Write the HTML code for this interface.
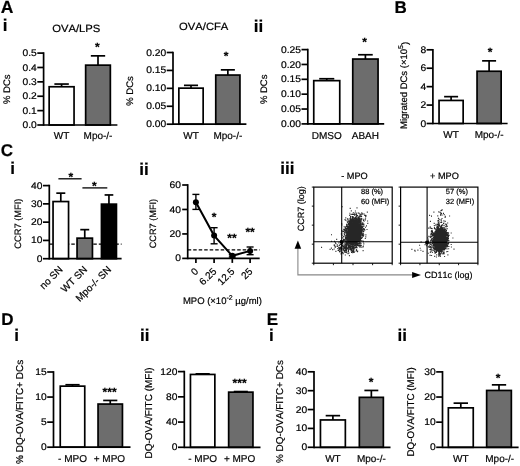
<!DOCTYPE html>
<html><head><meta charset="utf-8"><title>Figure</title>
<style>html,body{margin:0;padding:0;background:#fff}svg{display:block;filter:blur(0.4px)}text{font-family:"Liberation Sans", Arial, sans-serif;fill:#000;font-kerning:none;text-rendering:geometricPrecision;stroke:#000;stroke-width:0.2px}</style>
</head><body>
<svg width="520" height="466" viewBox="0 0 520 466">
<rect width="520" height="466" fill="#fff"/>
<text x="0.8" y="13.3" font-size="17.5" text-anchor="start" font-weight="bold">A</text>
<text x="2.8" y="31.2" font-size="17" text-anchor="start" font-weight="bold">i</text>
<text x="253.7" y="31.8" font-size="17" text-anchor="start" font-weight="bold">ii</text>
<text x="394.5" y="13.3" font-size="17" text-anchor="start" font-weight="bold">B</text>
<text x="0.7" y="156.4" font-size="17" text-anchor="start" font-weight="bold">C</text>
<text x="10.2" y="173.6" font-size="17" text-anchor="start" font-weight="bold">i</text>
<text x="139.2" y="174.6" font-size="17" text-anchor="start" font-weight="bold">ii</text>
<text x="280.2" y="174.2" font-size="17" text-anchor="start" font-weight="bold">iii</text>
<text x="1.2" y="324.7" font-size="17" text-anchor="start" font-weight="bold">D</text>
<text x="14.3" y="341.3" font-size="17" text-anchor="start" font-weight="bold">i</text>
<text x="140" y="341.3" font-size="17" text-anchor="start" font-weight="bold">ii</text>
<text x="266.8" y="324.7" font-size="17" text-anchor="start" font-weight="bold">E</text>
<text x="269" y="341.3" font-size="17" text-anchor="start" font-weight="bold">i</text>
<text x="397.5" y="341.3" font-size="17" text-anchor="start" font-weight="bold">ii</text>
<text transform="translate(76.2 31.9) scale(1.07 1)" font-size="10.5" text-anchor="middle" font-weight="normal">OVA/LPS</text>
<line x1="61.60000000000001" y1="86.75" x2="61.60000000000001" y2="84.05" stroke="#000" stroke-width="1.7"/>
<line x1="54.379000000000005" y1="84.05" x2="68.82100000000001" y2="84.05" stroke="#000" stroke-width="1.7"/>
<rect x="49.15" y="86.75" width="24.90" height="38.25" fill="#fff" stroke="#000" stroke-width="1.7"/>
<line x1="98.0" y1="65.14999999999999" x2="98.0" y2="55.85" stroke="#000" stroke-width="1.7"/>
<line x1="90.83699999999999" y1="55.85" x2="105.16300000000001" y2="55.85" stroke="#000" stroke-width="1.7"/>
<rect x="85.65" y="65.15" width="24.70" height="59.85" fill="#6d6d6d" stroke="#000" stroke-width="1.7"/>
<line x1="43.6" y1="52.25" x2="43.6" y2="125.85" stroke="#000" stroke-width="1.7"/>
<line x1="43.6" y1="125" x2="117.4" y2="125" stroke="#000" stroke-width="1.7"/>
<line x1="37.300000000000004" y1="125.0" x2="43.6" y2="125.0" stroke="#000" stroke-width="1.7"/>
<text transform="translate(36.800000000000004 128.05) scale(1.07 1)" font-size="9.6" text-anchor="end" font-weight="normal">0.0</text>
<line x1="37.300000000000004" y1="110.62" x2="43.6" y2="110.62" stroke="#000" stroke-width="1.7"/>
<text transform="translate(36.800000000000004 113.67) scale(1.07 1)" font-size="9.6" text-anchor="end" font-weight="normal">0.1</text>
<line x1="37.300000000000004" y1="96.24" x2="43.6" y2="96.24" stroke="#000" stroke-width="1.7"/>
<text transform="translate(36.800000000000004 99.29) scale(1.07 1)" font-size="9.6" text-anchor="end" font-weight="normal">0.2</text>
<line x1="37.300000000000004" y1="81.86" x2="43.6" y2="81.86" stroke="#000" stroke-width="1.7"/>
<text transform="translate(36.800000000000004 84.91) scale(1.07 1)" font-size="9.6" text-anchor="end" font-weight="normal">0.3</text>
<line x1="37.300000000000004" y1="67.47999999999999" x2="43.6" y2="67.47999999999999" stroke="#000" stroke-width="1.7"/>
<text transform="translate(36.800000000000004 70.53) scale(1.07 1)" font-size="9.6" text-anchor="end" font-weight="normal">0.4</text>
<line x1="37.300000000000004" y1="53.099999999999994" x2="43.6" y2="53.099999999999994" stroke="#000" stroke-width="1.7"/>
<text transform="translate(36.800000000000004 56.15) scale(1.07 1)" font-size="9.6" text-anchor="end" font-weight="normal">0.5</text>
<text x="61.6" y="138.6" font-size="10" text-anchor="middle" font-weight="normal">WT</text>
<text x="98.0" y="138.6" font-size="10" text-anchor="middle" font-weight="normal">Mpo-/-</text>
<text x="97.3" y="51.300000000000004" font-size="12" text-anchor="middle" font-weight="bold">*</text>
<text x="7.4" y="89.2" font-size="9.5" text-anchor="middle" font-weight="normal" transform="rotate(-90 7.4 89.2)" dominant-baseline="central">% DCs</text>
<text transform="translate(203.7 30) scale(1.07 1)" font-size="10.5" text-anchor="middle" font-weight="normal">OVA/CFA</text>
<line x1="191.0" y1="88.14999999999999" x2="191.0" y2="85.35" stroke="#000" stroke-width="1.7"/>
<line x1="183.953" y1="85.35" x2="198.047" y2="85.35" stroke="#000" stroke-width="1.7"/>
<rect x="178.85" y="88.15" width="24.30" height="36.05" fill="#fff" stroke="#000" stroke-width="1.7"/>
<line x1="227.85000000000002" y1="75.05" x2="227.85000000000002" y2="69.85" stroke="#000" stroke-width="1.7"/>
<line x1="220.83200000000002" y1="69.85" x2="234.86800000000002" y2="69.85" stroke="#000" stroke-width="1.7"/>
<rect x="215.75" y="75.05" width="24.20" height="49.15" fill="#6d6d6d" stroke="#000" stroke-width="1.7"/>
<line x1="173" y1="51.65" x2="173" y2="125.05" stroke="#000" stroke-width="1.7"/>
<line x1="173" y1="124.2" x2="246.4" y2="124.2" stroke="#000" stroke-width="1.7"/>
<line x1="166.7" y1="124.2" x2="173" y2="124.2" stroke="#000" stroke-width="1.7"/>
<text transform="translate(166.2 127.25) scale(1.07 1)" font-size="9.6" text-anchor="end" font-weight="normal">0.00</text>
<line x1="166.7" y1="106.275" x2="173" y2="106.275" stroke="#000" stroke-width="1.7"/>
<text transform="translate(166.2 109.33) scale(1.07 1)" font-size="9.6" text-anchor="end" font-weight="normal">0.05</text>
<line x1="166.7" y1="88.35" x2="173" y2="88.35" stroke="#000" stroke-width="1.7"/>
<text transform="translate(166.2 91.4) scale(1.07 1)" font-size="9.6" text-anchor="end" font-weight="normal">0.10</text>
<line x1="166.7" y1="70.425" x2="173" y2="70.425" stroke="#000" stroke-width="1.7"/>
<text transform="translate(166.2 73.47) scale(1.07 1)" font-size="9.6" text-anchor="end" font-weight="normal">0.15</text>
<line x1="166.7" y1="52.5" x2="173" y2="52.5" stroke="#000" stroke-width="1.7"/>
<text transform="translate(166.2 55.55) scale(1.07 1)" font-size="9.6" text-anchor="end" font-weight="normal">0.20</text>
<text x="191.0" y="138.8" font-size="10" text-anchor="middle" font-weight="normal">WT</text>
<text x="227.85" y="138.8" font-size="10" text-anchor="middle" font-weight="normal">Mpo-/-</text>
<text x="226" y="60.0" font-size="12" text-anchor="middle" font-weight="bold">*</text>
<text x="130" y="91" font-size="9.5" text-anchor="middle" font-weight="normal" transform="rotate(-90 130 91)" dominant-baseline="central">% DCs</text>
<line x1="326.75" y1="80.64999999999999" x2="326.75" y2="78.75" stroke="#000" stroke-width="1.7"/>
<line x1="319.21" y1="78.75" x2="334.29" y2="78.75" stroke="#000" stroke-width="1.7"/>
<rect x="313.75" y="80.65" width="26.00" height="43.25" fill="#fff" stroke="#000" stroke-width="1.7"/>
<line x1="365.4" y1="59.050000000000004" x2="365.4" y2="54.75" stroke="#000" stroke-width="1.7"/>
<line x1="358.063" y1="54.75" x2="372.73699999999997" y2="54.75" stroke="#000" stroke-width="1.7"/>
<rect x="352.75" y="59.05" width="25.30" height="64.85" fill="#6d6d6d" stroke="#000" stroke-width="1.7"/>
<line x1="307.8" y1="48.75" x2="307.8" y2="124.75" stroke="#000" stroke-width="1.7"/>
<line x1="307.8" y1="123.9" x2="384.2" y2="123.9" stroke="#000" stroke-width="1.7"/>
<line x1="301.5" y1="123.9" x2="307.8" y2="123.9" stroke="#000" stroke-width="1.7"/>
<text transform="translate(301.0 126.95) scale(1.07 1)" font-size="9.6" text-anchor="end" font-weight="normal">0.00</text>
<line x1="301.5" y1="109.04" x2="307.8" y2="109.04" stroke="#000" stroke-width="1.7"/>
<text transform="translate(301.0 112.09) scale(1.07 1)" font-size="9.6" text-anchor="end" font-weight="normal">0.05</text>
<line x1="301.5" y1="94.18" x2="307.8" y2="94.18" stroke="#000" stroke-width="1.7"/>
<text transform="translate(301.0 97.23) scale(1.07 1)" font-size="9.6" text-anchor="end" font-weight="normal">0.10</text>
<line x1="301.5" y1="79.32" x2="307.8" y2="79.32" stroke="#000" stroke-width="1.7"/>
<text transform="translate(301.0 82.37) scale(1.07 1)" font-size="9.6" text-anchor="end" font-weight="normal">0.15</text>
<line x1="301.5" y1="64.46" x2="307.8" y2="64.46" stroke="#000" stroke-width="1.7"/>
<text transform="translate(301.0 67.51) scale(1.07 1)" font-size="9.6" text-anchor="end" font-weight="normal">0.20</text>
<line x1="301.5" y1="49.599999999999994" x2="307.8" y2="49.599999999999994" stroke="#000" stroke-width="1.7"/>
<text transform="translate(301.0 52.65) scale(1.07 1)" font-size="9.6" text-anchor="end" font-weight="normal">0.25</text>
<text x="326.75" y="139.3" font-size="10" text-anchor="middle" font-weight="normal">DMSO</text>
<text x="365.4" y="139.3" font-size="10" text-anchor="middle" font-weight="normal">ABAH</text>
<text x="364.6" y="46.2" font-size="12" text-anchor="middle" font-weight="bold">*</text>
<text x="264.4" y="89.3" font-size="9.5" text-anchor="middle" font-weight="normal" transform="rotate(-90 264.4 89.3)" dominant-baseline="central">% DCs</text>
<line x1="451.1" y1="100.44999999999999" x2="451.1" y2="96.64999999999999" stroke="#000" stroke-width="1.7"/>
<line x1="444.11100000000005" y1="96.64999999999999" x2="458.089" y2="96.64999999999999" stroke="#000" stroke-width="1.7"/>
<rect x="439.05" y="100.45" width="24.10" height="23.05" fill="#fff" stroke="#000" stroke-width="1.7"/>
<line x1="489.1" y1="71.25" x2="489.1" y2="60.85" stroke="#000" stroke-width="1.7"/>
<line x1="482.11100000000005" y1="60.85" x2="496.089" y2="60.85" stroke="#000" stroke-width="1.7"/>
<rect x="477.05" y="71.25" width="24.10" height="52.25" fill="#6d6d6d" stroke="#000" stroke-width="1.7"/>
<line x1="432.9" y1="48.949999999999996" x2="432.9" y2="124.35" stroke="#000" stroke-width="1.7"/>
<line x1="432.9" y1="123.5" x2="507.6" y2="123.5" stroke="#000" stroke-width="1.7"/>
<line x1="426.59999999999997" y1="123.5" x2="432.9" y2="123.5" stroke="#000" stroke-width="1.7"/>
<text transform="translate(426.09999999999997 126.55) scale(1.07 1)" font-size="9.6" text-anchor="end" font-weight="normal">0</text>
<line x1="426.59999999999997" y1="105.075" x2="432.9" y2="105.075" stroke="#000" stroke-width="1.7"/>
<text transform="translate(426.09999999999997 108.12) scale(1.07 1)" font-size="9.6" text-anchor="end" font-weight="normal">2</text>
<line x1="426.59999999999997" y1="86.65" x2="432.9" y2="86.65" stroke="#000" stroke-width="1.7"/>
<text transform="translate(426.09999999999997 89.7) scale(1.07 1)" font-size="9.6" text-anchor="end" font-weight="normal">4</text>
<line x1="426.59999999999997" y1="68.225" x2="432.9" y2="68.225" stroke="#000" stroke-width="1.7"/>
<text transform="translate(426.09999999999997 71.27) scale(1.07 1)" font-size="9.6" text-anchor="end" font-weight="normal">6</text>
<line x1="426.59999999999997" y1="49.8" x2="432.9" y2="49.8" stroke="#000" stroke-width="1.7"/>
<text transform="translate(426.09999999999997 52.85) scale(1.07 1)" font-size="9.6" text-anchor="end" font-weight="normal">8</text>
<text x="451.1" y="138.2" font-size="10" text-anchor="middle" font-weight="normal">WT</text>
<text x="489.1" y="138.2" font-size="10" text-anchor="middle" font-weight="normal">Mpo-/-</text>
<text x="490.2" y="55.800000000000004" font-size="12" text-anchor="middle" font-weight="bold">*</text>
<text x="405" y="85.4" font-size="9.5" text-anchor="middle" font-weight="normal" transform="rotate(-90 405 85.4)" dominant-baseline="central">Migrated DCs (×10<tspan dy="-3.5" font-size="7">5</tspan><tspan dy="3.5">)</tspan></text>
<line x1="49.3" y1="244.1" x2="121.6" y2="244.1" stroke="#000" stroke-width="1.2" stroke-dasharray="3.5 2"/>
<line x1="60.80000000000001" y1="201.54999999999998" x2="60.80000000000001" y2="193.15" stroke="#000" stroke-width="1.7"/>
<line x1="56.30500000000001" y1="193.15" x2="65.29500000000002" y2="193.15" stroke="#000" stroke-width="1.7"/>
<rect x="53.05" y="201.55" width="15.50" height="57.15" fill="#fff" stroke="#000" stroke-width="1.7"/>
<line x1="84.75" y1="238.15" x2="84.75" y2="229.65" stroke="#000" stroke-width="1.7"/>
<line x1="80.28399999999999" y1="229.65" x2="89.21600000000001" y2="229.65" stroke="#000" stroke-width="1.7"/>
<rect x="77.05" y="238.15" width="15.40" height="20.55" fill="#727272" stroke="#000" stroke-width="1.7"/>
<line x1="108.94999999999999" y1="204.15" x2="108.94999999999999" y2="194.95" stroke="#000" stroke-width="1.7"/>
<line x1="104.59999999999998" y1="194.95" x2="113.3" y2="194.95" stroke="#000" stroke-width="1.7"/>
<rect x="101.45" y="204.15" width="15.00" height="54.55" fill="#000" stroke="#000" stroke-width="1.7"/>
<line x1="49.3" y1="184.75" x2="49.3" y2="259.55" stroke="#000" stroke-width="1.7"/>
<line x1="49.3" y1="258.7" x2="121.6" y2="258.7" stroke="#000" stroke-width="1.7"/>
<line x1="43.0" y1="258.7" x2="49.3" y2="258.7" stroke="#000" stroke-width="1.7"/>
<text transform="translate(42.5 261.75) scale(1.07 1)" font-size="9.6" text-anchor="end" font-weight="normal">0</text>
<line x1="43.0" y1="240.42499999999998" x2="49.3" y2="240.42499999999998" stroke="#000" stroke-width="1.7"/>
<text transform="translate(42.5 243.47) scale(1.07 1)" font-size="9.6" text-anchor="end" font-weight="normal">10</text>
<line x1="43.0" y1="222.14999999999998" x2="49.3" y2="222.14999999999998" stroke="#000" stroke-width="1.7"/>
<text transform="translate(42.5 225.2) scale(1.07 1)" font-size="9.6" text-anchor="end" font-weight="normal">20</text>
<line x1="43.0" y1="203.875" x2="49.3" y2="203.875" stroke="#000" stroke-width="1.7"/>
<text transform="translate(42.5 206.93) scale(1.07 1)" font-size="9.6" text-anchor="end" font-weight="normal">30</text>
<line x1="43.0" y1="185.6" x2="49.3" y2="185.6" stroke="#000" stroke-width="1.7"/>
<text transform="translate(42.5 188.65) scale(1.07 1)" font-size="9.6" text-anchor="end" font-weight="normal">40</text>
<text x="18.4" y="223.6" font-size="9.3" text-anchor="middle" font-weight="normal" transform="rotate(-90 18.4 223.6)" dominant-baseline="central">CCR7 (MFI)</text>
<line x1="58.4" y1="178.8" x2="81.6" y2="178.8" stroke="#000" stroke-width="1.3"/>
<text x="70.8" y="180.6" font-size="12" text-anchor="middle" font-weight="bold">*</text>
<line x1="82.4" y1="187.9" x2="107.3" y2="187.9" stroke="#000" stroke-width="1.3"/>
<text x="94.4" y="189.8" font-size="12" text-anchor="middle" font-weight="bold">*</text>
<text x="63.4" y="270.1" font-size="10" text-anchor="end" font-weight="normal" transform="rotate(-45 63.4 270.1)">no SN</text>
<text x="87.9" y="270.1" font-size="10" text-anchor="end" font-weight="normal" transform="rotate(-45 87.9 270.1)">WT SN</text>
<text x="111.9" y="270.1" font-size="10" text-anchor="end" font-weight="normal" transform="rotate(-45 111.9 270.1)">Mpo-/- SN</text>
<line x1="187.7" y1="184.15" x2="187.7" y2="259.25" stroke="#000" stroke-width="1.7"/>
<line x1="187.7" y1="258.4" x2="259.7" y2="258.4" stroke="#000" stroke-width="1.7"/>
<line x1="182.2" y1="258.4" x2="187.7" y2="258.4" stroke="#000" stroke-width="1.7"/>
<text transform="translate(180.89999999999998 261.45) scale(1.07 1)" font-size="9.6" text-anchor="end" font-weight="normal">0</text>
<line x1="182.2" y1="233.9333333333333" x2="187.7" y2="233.9333333333333" stroke="#000" stroke-width="1.7"/>
<text transform="translate(180.89999999999998 236.98) scale(1.07 1)" font-size="9.6" text-anchor="end" font-weight="normal">20</text>
<line x1="182.2" y1="209.46666666666667" x2="187.7" y2="209.46666666666667" stroke="#000" stroke-width="1.7"/>
<text transform="translate(180.89999999999998 212.52) scale(1.07 1)" font-size="9.6" text-anchor="end" font-weight="normal">40</text>
<line x1="182.2" y1="185.0" x2="187.7" y2="185.0" stroke="#000" stroke-width="1.7"/>
<text transform="translate(180.89999999999998 188.05) scale(1.07 1)" font-size="9.6" text-anchor="end" font-weight="normal">60</text>
<line x1="195.9" y1="258.4" x2="195.9" y2="262.9" stroke="#000" stroke-width="1.7"/>
<text x="198.9" y="272.0" font-size="10" text-anchor="end" font-weight="normal" transform="rotate(-45 198.9 272.0)">0</text>
<line x1="214.1" y1="258.4" x2="214.1" y2="262.9" stroke="#000" stroke-width="1.7"/>
<text x="217.1" y="272.0" font-size="10" text-anchor="end" font-weight="normal" transform="rotate(-45 217.1 272.0)">6.25</text>
<line x1="232.3" y1="258.4" x2="232.3" y2="262.9" stroke="#000" stroke-width="1.7"/>
<text x="235.3" y="272.0" font-size="10" text-anchor="end" font-weight="normal" transform="rotate(-45 235.3 272.0)">12.5</text>
<line x1="250.1" y1="258.4" x2="250.1" y2="262.9" stroke="#000" stroke-width="1.7"/>
<text x="253.1" y="272.0" font-size="10" text-anchor="end" font-weight="normal" transform="rotate(-45 253.1 272.0)">25</text>
<line x1="187.7" y1="249.9" x2="259.7" y2="249.9" stroke="#000" stroke-width="1.2" stroke-dasharray="3.5 2"/>
<polyline fill="none" stroke="#000" stroke-width="2" points="195.9,202.2 214.1,235.6 232.3,255.8 250.1,250.9"/>
<line x1="195.9" y1="194.4" x2="195.9" y2="209.4" stroke="#000" stroke-width="1.4"/>
<line x1="192.4" y1="194.4" x2="199.4" y2="194.4" stroke="#000" stroke-width="1.4"/>
<line x1="192.4" y1="209.4" x2="199.4" y2="209.4" stroke="#000" stroke-width="1.4"/>
<circle cx="195.9" cy="202.2" r="3" fill="#000"/>
<line x1="214.1" y1="227.7" x2="214.1" y2="243.8" stroke="#000" stroke-width="1.4"/>
<line x1="210.6" y1="227.7" x2="217.6" y2="227.7" stroke="#000" stroke-width="1.4"/>
<line x1="210.6" y1="243.8" x2="217.6" y2="243.8" stroke="#000" stroke-width="1.4"/>
<circle cx="214.1" cy="235.6" r="3" fill="#000"/>
<line x1="232.3" y1="254.6" x2="232.3" y2="257" stroke="#000" stroke-width="1.4"/>
<line x1="228.8" y1="254.6" x2="235.8" y2="254.6" stroke="#000" stroke-width="1.4"/>
<line x1="228.8" y1="257" x2="235.8" y2="257" stroke="#000" stroke-width="1.4"/>
<circle cx="232.3" cy="255.8" r="3" fill="#000"/>
<line x1="250.1" y1="247" x2="250.1" y2="254.7" stroke="#000" stroke-width="1.4"/>
<line x1="246.6" y1="247" x2="253.6" y2="247" stroke="#000" stroke-width="1.4"/>
<line x1="246.6" y1="254.7" x2="253.6" y2="254.7" stroke="#000" stroke-width="1.4"/>
<circle cx="250.1" cy="250.9" r="3" fill="#000"/>
<text x="214.1" y="221" font-size="12" text-anchor="middle" font-weight="bold">*</text>
<text x="231.9" y="242.3" font-size="12" text-anchor="middle" font-weight="bold">**</text>
<text x="250.1" y="235.8" font-size="12" text-anchor="middle" font-weight="bold">**</text>
<text x="152.6" y="223.6" font-size="9.2" text-anchor="middle" font-weight="normal" transform="rotate(-90 152.6 223.6)" dominant-baseline="central">CCR7 (MFI)</text>
<text x="222.4" y="303.9" font-size="9.5" text-anchor="middle" font-weight="normal">MPO (×10<tspan dy="-3.5" font-size="7">-2</tspan><tspan dy="3.5"> µg/ml)</tspan></text>
<rect x="313.8" y="187.1" width="78.39999999999998" height="76.1" fill="#fff" stroke="#000" stroke-width="1.2"/>
<line x1="311.8" y1="187.1" x2="313.8" y2="187.1" stroke="#000" stroke-width="0.9"/>
<line x1="313.8" y1="263.2" x2="313.8" y2="265.2" stroke="#000" stroke-width="0.9"/>
<line x1="311.8" y1="206.125" x2="313.8" y2="206.125" stroke="#000" stroke-width="0.9"/>
<line x1="333.4" y1="263.2" x2="333.4" y2="265.2" stroke="#000" stroke-width="0.9"/>
<line x1="311.8" y1="225.14999999999998" x2="313.8" y2="225.14999999999998" stroke="#000" stroke-width="0.9"/>
<line x1="353.0" y1="263.2" x2="353.0" y2="265.2" stroke="#000" stroke-width="0.9"/>
<line x1="311.8" y1="244.17499999999998" x2="313.8" y2="244.17499999999998" stroke="#000" stroke-width="0.9"/>
<line x1="372.6" y1="263.2" x2="372.6" y2="265.2" stroke="#000" stroke-width="0.9"/>
<line x1="311.8" y1="263.2" x2="313.8" y2="263.2" stroke="#000" stroke-width="0.9"/>
<line x1="392.2" y1="263.2" x2="392.2" y2="265.2" stroke="#000" stroke-width="0.9"/>
<ellipse cx="354.3" cy="232" rx="7.2" ry="13.2" fill="#353535" transform="rotate(10 354.3 232)"/>
<path d="M352.2 235.4h1M353.3 229.7h1M350.4 229.9h1M357.7 235.7h1M357.6 234.4h1M355.1 233.6h1M346.2 236.8h1M355.2 235.8h1M349.3 218.7h1M350.9 228.1h1M355.1 231.9h1M356.6 227.9h1M354.5 234.9h1M349.1 243.5h1M354.5 240.7h1M352.3 226.4h1M352.6 231.0h1M356.0 234.2h1M353.2 225.0h1M350.3 240.1h1M350.3 233.1h1M357.3 222.0h1M352.4 241.1h1M346.3 228.4h1M354.4 226.3h1M355.8 231.9h1M347.0 236.7h1M355.3 239.0h1M359.0 235.5h1M355.9 223.1h1M357.0 228.2h1M353.6 222.9h1M350.6 227.6h1M361.4 218.8h1M347.8 232.6h1M358.8 237.0h1M349.4 213.2h1M356.1 227.1h1M348.2 238.0h1M357.9 233.9h1M354.2 235.2h1M359.3 237.4h1M355.2 236.2h1M346.1 239.8h1M356.9 236.3h1M346.8 226.2h1M359.3 220.0h1M351.8 238.9h1M346.7 242.3h1M356.2 231.3h1M354.3 236.7h1M352.9 240.0h1M351.7 228.7h1M357.9 232.9h1M349.2 238.0h1M360.1 229.9h1M348.5 230.1h1M353.6 229.8h1M360.6 225.9h1M360.3 224.1h1M349.9 235.8h1M357.2 238.7h1M355.0 233.2h1M353.7 236.1h1M352.8 233.8h1M356.1 232.4h1M356.1 236.5h1M361.3 235.7h1M352.6 229.1h1M352.6 238.4h1M352.0 234.4h1M364.2 215.5h1M349.1 232.9h1M355.1 233.9h1M351.3 236.2h1M355.6 228.6h1M362.9 236.2h1M351.7 230.9h1M353.0 231.4h1M343.6 226.7h1M359.2 224.6h1M352.4 238.6h1M355.3 242.9h1M347.5 228.4h1M351.7 236.1h1M361.4 214.1h1M359.9 222.7h1M358.3 222.1h1M353.0 240.4h1M353.0 233.2h1M356.8 233.5h1M351.6 242.6h1M358.3 230.7h1M366.0 225.9h1M357.7 230.8h1M353.5 237.0h1M353.9 236.6h1M349.6 220.5h1M357.4 225.7h1M351.6 221.1h1M357.9 238.1h1M360.8 226.5h1M355.2 224.1h1M354.9 243.6h1M348.4 242.2h1M357.9 231.5h1M344.3 240.4h1M354.2 227.8h1M354.9 235.1h1M360.9 226.0h1M356.5 243.1h1M359.7 231.8h1M349.6 238.6h1M354.1 232.9h1M359.7 231.2h1M345.2 227.7h1M345.5 236.4h1M355.8 228.0h1M352.7 237.8h1M352.5 241.3h1M352.3 239.2h1M357.7 244.2h1M350.1 237.6h1M347.7 223.2h1M344.8 238.1h1M349.0 231.1h1M353.1 231.7h1M351.2 233.2h1M360.8 233.6h1M354.7 239.3h1M354.6 223.1h1M350.3 239.1h1M348.0 226.7h1M356.8 238.2h1M352.8 237.6h1M355.9 223.9h1M348.4 226.5h1M358.1 228.7h1M351.2 226.0h1M347.9 230.1h1M348.7 233.7h1M344.1 232.6h1M353.6 218.1h1M357.0 230.6h1M346.1 224.4h1M355.5 229.0h1M356.0 237.7h1M356.0 234.7h1M358.2 237.5h1M358.1 217.9h1M355.7 241.7h1M353.2 228.5h1M363.6 221.1h1M352.7 249.1h1M349.3 236.1h1M361.4 232.5h1M354.9 238.7h1M350.3 230.8h1M353.9 237.9h1M353.9 230.6h1M350.2 228.8h1M357.2 233.3h1M351.5 225.6h1M362.9 241.8h1M359.5 214.5h1M355.7 235.8h1M359.9 236.1h1M352.9 235.6h1M344.9 237.8h1M355.9 227.4h1M356.8 245.5h1M349.1 226.4h1M354.7 233.5h1M353.4 225.0h1M360.9 240.7h1M350.7 221.8h1M359.3 240.0h1M360.0 238.9h1M350.0 233.2h1M346.2 225.3h1M352.9 235.6h1M351.1 230.6h1M355.1 234.9h1M356.1 233.9h1M351.6 237.3h1M355.0 226.3h1M351.3 231.6h1M353.2 233.0h1M353.6 233.2h1M354.8 223.2h1M354.2 239.6h1M355.7 231.0h1M356.7 225.6h1M346.3 231.1h1M349.2 236.5h1M352.7 213.0h1M347.8 242.2h1M354.0 222.2h1M350.2 235.1h1M355.5 233.6h1M358.8 237.9h1M353.0 236.1h1M359.1 239.9h1M359.2 225.2h1M352.3 237.0h1M351.3 239.2h1M355.0 238.7h1M349.8 249.5h1M358.9 231.4h1M351.0 250.1h1M351.4 237.8h1M357.7 232.7h1M349.0 232.5h1M353.8 240.1h1M356.9 232.7h1M356.5 236.3h1M354.5 232.5h1M352.0 236.6h1M350.4 226.9h1M355.6 221.8h1M354.5 217.8h1M350.4 235.5h1M356.1 232.0h1M354.6 222.0h1M360.4 236.8h1M359.2 226.6h1M355.3 219.2h1M355.7 239.0h1M346.4 230.3h1M358.4 220.2h1M347.9 223.3h1M353.0 221.8h1M353.6 233.8h1M355.4 237.3h1M358.3 241.1h1M349.3 227.6h1M350.9 223.8h1M353.5 232.0h1M357.7 221.3h1M349.0 231.0h1M353.4 229.7h1M354.5 226.7h1M356.1 234.9h1M354.3 227.3h1M356.4 213.0h1M349.9 231.6h1M347.6 232.3h1M356.1 222.5h1M353.2 229.6h1M354.9 236.6h1M354.7 226.1h1M353.3 231.4h1M356.3 234.6h1M352.6 222.1h1M353.2 226.6h1M349.6 230.4h1M351.7 232.4h1M356.4 229.5h1M363.3 231.4h1M358.0 233.6h1M361.1 216.3h1M350.5 233.2h1M353.3 248.6h1M353.5 241.1h1M355.7 239.1h1M356.0 231.3h1M357.1 224.9h1M359.7 225.8h1M352.2 246.9h1M352.9 232.0h1M358.3 233.0h1M350.3 233.2h1M355.2 237.3h1M348.6 243.6h1M360.3 233.3h1M355.4 229.2h1M360.2 228.1h1M357.0 229.1h1M350.2 236.5h1M359.1 232.9h1M350.1 237.2h1M353.2 234.1h1M358.4 240.9h1M349.0 247.5h1M352.9 237.5h1M351.3 231.2h1M344.7 243.2h1M360.7 224.5h1M349.9 219.7h1M359.0 229.6h1M353.9 229.8h1M354.7 224.4h1M355.7 222.0h1M353.1 234.1h1M355.9 230.7h1M350.0 232.5h1M350.0 242.5h1M357.0 231.7h1M352.8 226.8h1M350.5 228.9h1M354.3 235.8h1M353.5 247.0h1M351.0 231.6h1M367.1 221.0h1M351.5 232.8h1M353.9 234.9h1M352.4 234.4h1M353.1 237.4h1M347.4 224.5h1M355.1 224.8h1M348.9 235.6h1M350.5 236.0h1M356.4 234.6h1M355.9 231.6h1M348.3 230.8h1M356.2 228.6h1M352.5 237.1h1M349.6 235.8h1M361.8 229.4h1M354.6 231.1h1M359.5 235.3h1M358.2 227.8h1M353.7 231.9h1M345.0 240.8h1M359.5 220.5h1M356.9 231.6h1M355.1 234.9h1M348.2 229.5h1M360.4 229.0h1M351.4 221.9h1M348.6 233.5h1M359.9 236.2h1M352.0 247.7h1M352.6 227.0h1M355.2 236.2h1M351.2 223.2h1M354.6 233.9h1M348.9 229.7h1M351.1 234.8h1M353.4 231.3h1M351.1 239.1h1M359.7 230.4h1M358.1 227.3h1M353.2 237.3h1M360.2 230.4h1M353.3 233.3h1M347.9 231.1h1M350.7 234.1h1M351.8 217.5h1M353.6 233.8h1M350.6 237.8h1M353.5 227.6h1M357.6 221.5h1M351.2 231.4h1M357.3 231.5h1M355.8 227.7h1M353.0 243.8h1M348.2 247.9h1M351.2 231.7h1M353.2 239.2h1M351.5 216.6h1M355.2 237.9h1M353.0 250.7h1M354.3 233.9h1M357.0 235.2h1M361.9 224.6h1M356.5 207.8h1M357.5 230.0h1M354.8 247.6h1M354.1 230.2h1M352.9 225.8h1M350.5 236.0h1M353.9 232.5h1M352.0 238.2h1M355.9 231.4h1M356.6 231.4h1M347.5 241.3h1M356.8 225.7h1M357.6 235.1h1M345.7 242.1h1M354.0 238.4h1M354.8 231.1h1M346.5 237.7h1M354.3 230.0h1M355.1 232.8h1M356.9 229.9h1M356.3 217.1h1M351.3 236.4h1M359.5 230.4h1M351.4 242.9h1M351.6 236.9h1M360.4 233.4h1M359.5 227.9h1M354.7 231.6h1M352.9 239.9h1M364.0 229.0h1M350.9 235.1h1M349.0 234.7h1M356.4 230.5h1M357.8 221.6h1M358.7 221.8h1M351.7 227.7h1M351.2 237.7h1M354.6 229.3h1M354.0 243.3h1M353.4 234.5h1M358.4 234.7h1M345.7 248.4h1M364.9 219.8h1M353.1 234.9h1M356.8 237.3h1M354.0 224.5h1M352.9 239.2h1M350.8 224.1h1M356.1 218.5h1M353.3 228.8h1M356.4 227.4h1M350.8 228.7h1M354.4 227.4h1M352.9 237.2h1M356.4 244.7h1M351.2 228.5h1M341.7 243.5h1M351.0 231.3h1M357.5 222.9h1M355.7 232.1h1M346.2 232.8h1M360.8 219.9h1M356.7 234.0h1M355.1 235.4h1M359.2 231.4h1M357.7 229.8h1M357.7 226.9h1M351.3 243.9h1M355.7 231.2h1M350.3 225.7h1M353.4 238.7h1M354.8 235.9h1M352.0 241.4h1M352.9 227.9h1M357.2 233.1h1M353.4 227.8h1M352.0 236.1h1M356.7 223.9h1M355.3 233.5h1M348.9 236.7h1M353.1 229.5h1M355.3 241.7h1M350.6 234.6h1M347.5 247.4h1M350.4 239.9h1M350.3 237.2h1M365.6 215.9h1M351.5 235.2h1M354.3 227.3h1M362.2 234.0h1M346.3 236.8h1M345.6 238.8h1M351.3 232.6h1M358.6 233.7h1M350.4 219.3h1M357.6 238.0h1M349.5 237.4h1M355.0 236.8h1M345.3 228.3h1M356.4 237.7h1M360.3 215.6h1M353.9 235.5h1M365.0 227.2h1M352.5 232.0h1M357.8 229.5h1M359.3 227.3h1M355.5 228.5h1M355.3 227.3h1M346.2 238.5h1M355.7 228.3h1M353.4 239.0h1M350.1 230.6h1M355.3 236.0h1M355.1 217.1h1M358.3 235.1h1M354.2 230.1h1M355.4 229.2h1M350.7 226.2h1M352.2 227.3h1M348.5 235.6h1M347.8 235.7h1M349.4 233.7h1M359.0 234.4h1M350.9 231.8h1M356.5 220.1h1M351.2 232.7h1M351.9 232.2h1M355.8 237.8h1M356.6 236.7h1M352.7 231.7h1M353.1 229.6h1M355.2 219.9h1M352.5 231.6h1M350.0 231.2h1M356.0 231.2h1M365.2 215.4h1M355.2 219.2h1M354.4 251.1h1M343.8 231.1h1M356.2 230.3h1M358.7 216.8h1M356.7 235.2h1M354.6 227.9h1M356.9 229.1h1M355.3 228.6h1M345.0 230.2h1M353.7 237.4h1M350.4 231.2h1M356.1 233.4h1M356.3 246.7h1M352.6 218.0h1M355.3 243.2h1M356.4 238.3h1M352.2 226.6h1M358.4 226.3h1M347.9 223.8h1M361.3 247.1h1M352.0 226.5h1M355.6 227.0h1M359.1 232.4h1M347.9 240.3h1M351.2 233.1h1M354.1 229.8h1M355.9 227.4h1M349.2 215.4h1M349.7 225.9h1M353.6 232.4h1M355.8 233.2h1M351.5 226.5h1M345.7 229.4h1M355.1 236.0h1M353.5 230.7h1M357.5 232.8h1M356.0 236.6h1M353.0 241.2h1M352.0 229.1h1M351.6 225.9h1M357.8 245.3h1M353.2 236.0h1M357.4 238.4h1M360.1 224.1h1M350.7 234.7h1M359.3 233.7h1M350.9 228.9h1M352.2 225.6h1M360.5 228.7h1M351.2 247.0h1M358.1 235.2h1M350.9 234.4h1M359.4 237.4h1M358.6 233.6h1M356.1 231.0h1M353.9 241.3h1M348.2 230.6h1M355.4 228.2h1M351.6 237.2h1M360.9 237.8h1M357.0 221.5h1M361.3 233.9h1M355.0 224.2h1M354.9 224.4h1M353.5 235.3h1M353.6 234.0h1M348.7 241.3h1M353.5 218.9h1M354.0 226.6h1M350.3 228.8h1M356.4 224.0h1M351.5 241.8h1M356.7 231.4h1M354.4 231.3h1M352.7 237.0h1M356.4 215.3h1M354.8 225.8h1M357.1 228.2h1M351.7 247.2h1M351.1 223.5h1M351.2 214.4h1M346.0 233.2h1M353.6 218.6h1M347.2 235.3h1M351.2 228.9h1M353.4 241.6h1M360.2 240.5h1M354.1 233.4h1M359.2 243.2h1M352.0 235.0h1M354.9 232.6h1M353.5 222.4h1M353.6 220.9h1M358.0 236.6h1M347.3 240.8h1M359.6 219.4h1M360.1 238.9h1M363.4 224.9h1M355.4 235.3h1M354.4 233.3h1M359.8 222.4h1M350.6 221.5h1M352.3 227.4h1M354.9 234.1h1M354.8 227.3h1M350.9 238.3h1M356.7 233.2h1M350.6 242.6h1M350.7 236.1h1M358.7 231.0h1M358.4 224.8h1M357.5 234.1h1M346.7 235.5h1M348.7 240.3h1M351.3 230.4h1M355.3 229.9h1M355.5 228.3h1M356.4 232.5h1M358.0 213.0h1M358.3 233.0h1M346.7 231.4h1M354.3 239.8h1M347.6 242.0h1M350.2 248.5h1M352.4 236.6h1M353.7 224.0h1M357.0 239.1h1M358.8 239.0h1M353.6 220.1h1M352.1 226.9h1M349.9 235.5h1M355.4 230.4h1M354.7 231.1h1M353.7 237.4h1M358.4 227.9h1M346.1 240.9h1M352.9 239.8h1M347.7 228.6h1M355.7 222.0h1M350.9 236.7h1M356.1 243.8h1M352.1 221.7h1M354.7 238.9h1M356.2 223.1h1M355.9 238.0h1M356.6 229.0h1M354.0 237.7h1M353.9 218.8h1M354.5 235.6h1M352.8 238.2h1M351.6 231.0h1M351.9 235.8h1M360.4 231.4h1M360.0 244.0h1M356.2 236.6h1M361.0 232.0h1M354.7 224.5h1M354.0 241.7h1M355.4 235.3h1M352.8 233.0h1M346.9 238.3h1M353.5 224.1h1M351.8 225.8h1M355.9 239.9h1M347.3 237.5h1M358.0 228.6h1M348.9 225.8h1M350.9 233.9h1M354.9 217.7h1M356.6 221.5h1M358.8 224.3h1M352.1 225.6h1M350.1 240.6h1M356.4 236.8h1M357.0 221.5h1M352.4 227.8h1M349.3 234.9h1M351.7 226.6h1M352.2 217.0h1M354.5 241.6h1M355.7 225.3h1M342.9 231.3h1M358.2 234.9h1M355.6 242.9h1M358.8 229.7h1M357.0 238.1h1M348.2 228.1h1M348.3 230.3h1M357.4 225.0h1M344.1 239.6h1M353.5 242.5h1M347.3 238.4h1M359.5 247.4h1M352.6 233.7h1M352.0 238.8h1M357.8 233.3h1M347.5 236.2h1M351.2 236.0h1M352.9 243.4h1M358.8 229.7h1M353.0 244.5h1M351.2 234.6h1M357.0 241.5h1M357.5 223.2h1M348.5 232.8h1M352.2 249.9h1M349.0 239.3h1M358.9 220.9h1M350.4 232.6h1M352.0 230.6h1M356.6 226.7h1M356.4 227.9h1M351.0 235.3h1M351.2 233.6h1M360.1 233.3h1M352.3 237.0h1M351.0 239.3h1M348.0 235.4h1M352.8 226.1h1M361.8 227.3h1M359.9 237.8h1M360.7 226.2h1M356.7 242.9h1M353.5 231.0h1M363.3 234.9h1M352.9 227.3h1M355.2 234.6h1M352.4 244.1h1M351.9 235.1h1M360.8 226.0h1M355.7 245.4h1M349.8 223.4h1M352.0 218.5h1M357.9 219.4h1M354.0 242.4h1M347.8 228.7h1M345.3 236.1h1M351.2 229.6h1M353.3 235.8h1M352.4 231.9h1M351.5 232.4h1M349.1 231.6h1M346.8 227.3h1M361.2 233.9h1M348.5 232.9h1M352.0 219.9h1M350.0 236.6h1M355.4 231.6h1M351.5 223.9h1M358.8 234.6h1M352.6 216.7h1M345.4 248.2h1M349.4 230.7h1M354.8 231.1h1M354.4 222.3h1M347.6 243.0h1M349.8 237.3h1M347.5 228.9h1M353.6 239.4h1M348.6 235.4h1M356.2 227.1h1M356.8 226.1h1M350.7 231.3h1M343.2 229.4h1M351.7 221.2h1M351.2 237.0h1M350.7 240.5h1M350.8 222.1h1M359.4 235.8h1M358.5 226.9h1M356.7 234.4h1M356.3 232.6h1M359.3 228.3h1M351.8 221.1h1M359.3 227.7h1M350.8 224.8h1M353.6 222.9h1M353.4 227.4h1M352.8 225.0h1M354.5 228.8h1M353.9 233.8h1M357.8 217.0h1M352.7 226.1h1M358.8 221.6h1M351.3 229.5h1M351.3 238.6h1M350.9 238.4h1M350.2 218.4h1M358.1 235.9h1M355.6 233.2h1M357.2 223.9h1M358.2 229.0h1M357.6 233.3h1M347.6 221.7h1M358.4 231.8h1M351.9 233.4h1M352.8 227.9h1M354.0 233.1h1M359.7 233.4h1M359.0 245.8h1M359.3 240.6h1M354.1 233.0h1M354.1 226.8h1M354.3 227.5h1M359.6 236.8h1M354.4 218.4h1M354.1 229.1h1M350.9 223.4h1M344.2 234.4h1M350.4 249.9h1M353.9 230.9h1M359.3 233.9h1M354.9 229.5h1M349.6 242.0h1M355.6 244.6h1M352.4 232.0h1M349.1 238.1h1M347.6 234.9h1M356.4 242.6h1M348.8 238.9h1M351.9 226.3h1M347.2 239.1h1M361.0 229.0h1M351.2 229.1h1M362.4 240.7h1M353.9 219.2h1M349.7 239.8h1M361.5 231.4h1M351.7 228.0h1M345.3 237.0h1M348.2 238.6h1M348.6 222.0h1M355.9 226.9h1M356.9 232.6h1M348.4 235.5h1M359.5 219.3h1M360.4 236.7h1M359.1 219.6h1M351.4 229.1h1M359.8 222.6h1M352.8 217.3h1M352.4 234.2h1M347.9 226.7h1M353.9 243.4h1M356.8 230.4h1M350.3 224.7h1M351.0 232.6h1M351.6 243.5h1M356.2 224.8h1M358.7 239.7h1M355.1 227.1h1M347.7 223.6h1M358.4 227.1h1M348.4 232.4h1M354.0 236.4h1M354.7 242.2h1M349.3 238.2h1M349.1 236.1h1M354.2 233.8h1M357.6 232.6h1M357.1 238.8h1M355.0 228.2h1M351.5 227.8h1M353.0 231.7h1M364.8 238.5h1M357.9 226.6h1M351.4 229.3h1M355.8 224.9h1M360.8 229.2h1M360.9 216.5h1M353.4 233.9h1M353.8 236.3h1M354.7 233.3h1M347.2 225.7h1M343.8 234.7h1M355.3 230.9h1M351.3 227.4h1M359.0 245.3h1M352.0 240.9h1M349.9 217.5h1M353.0 225.6h1M351.4 232.9h1M366.5 229.5h1M353.7 234.0h1M352.5 238.4h1M362.3 224.6h1M354.8 230.3h1M357.1 221.6h1M349.7 214.7h1M355.6 233.7h1M357.0 215.6h1M353.3 226.5h1M349.4 224.7h1M355.9 236.3h1M353.1 235.6h1M351.3 232.1h1M353.3 235.9h1M353.7 231.0h1M354.1 227.4h1M362.0 237.1h1M352.7 248.2h1M361.2 222.2h1M355.5 238.3h1M359.6 242.4h1M358.3 224.4h1M350.0 233.3h1M357.0 225.3h1M352.8 229.0h1M353.6 234.4h1M354.2 223.2h1M356.7 243.9h1M352.1 239.0h1M354.7 236.9h1M356.6 227.0h1M354.8 239.4h1M347.9 245.0h1M359.8 246.1h1M360.7 238.5h1M353.2 227.6h1M350.5 232.2h1M352.9 236.6h1M343.0 246.6h1M362.8 233.4h1M355.9 235.8h1M355.1 230.7h1M354.3 226.2h1M354.5 232.0h1M356.1 226.3h1M353.9 232.4h1M357.5 225.0h1M354.2 239.1h1M356.6 229.9h1M352.2 230.0h1M354.8 243.3h1M354.0 227.4h1M355.0 233.7h1M351.1 226.3h1M352.6 236.6h1M350.3 224.1h1M357.3 223.8h1M353.8 234.5h1M354.6 224.9h1M354.0 229.7h1M356.2 226.4h1M360.1 221.1h1M353.1 231.9h1M358.3 228.4h1M356.6 228.4h1M354.6 244.6h1M351.7 234.8h1M349.0 238.1h1M358.5 233.1h1M348.8 234.0h1M357.0 240.4h1M359.2 219.9h1M349.4 241.4h1M347.6 239.0h1M360.3 238.6h1M358.6 230.5h1M349.1 230.4h1M353.1 231.5h1M356.7 231.5h1M354.0 235.1h1M351.5 244.8h1M355.4 232.9h1M353.7 227.5h1M358.9 234.0h1M350.2 227.3h1M353.8 228.8h1M359.5 224.7h1M355.6 233.3h1M349.1 231.5h1M352.8 235.4h1M351.7 233.8h1M348.6 223.3h1M355.6 239.8h1M354.5 227.8h1M360.6 218.2h1M349.8 236.1h1M357.6 225.3h1M344.6 240.8h1M355.5 225.9h1M352.9 238.3h1M342.2 237.9h1M359.3 218.1h1M359.0 220.2h1M357.8 235.6h1M363.4 229.3h1M352.5 239.3h1M352.1 226.7h1M352.4 231.2h1M348.9 234.6h1M355.9 232.9h1M360.9 230.9h1M359.6 229.1h1M359.1 219.1h1M354.8 230.9h1M352.6 227.4h1M353.3 226.8h1M345.9 226.3h1M352.3 228.0h1M349.8 230.3h1M357.2 230.8h1M350.2 241.1h1M356.5 239.1h1M358.8 230.5h1M351.9 239.6h1M351.8 230.8h1M354.8 234.8h1M351.5 238.6h1M352.2 236.9h1M357.2 237.3h1M358.1 224.5h1M349.4 226.8h1M353.8 242.7h1M348.6 233.3h1M351.3 226.3h1M351.9 236.6h1M353.2 240.3h1M348.8 237.5h1M357.4 233.1h1M356.4 228.4h1M350.0 228.4h1M347.7 251.6h1M349.9 243.1h1M354.2 234.3h1M357.7 227.1h1M356.9 235.2h1M347.1 235.1h1M355.4 235.5h1M360.6 230.2h1M354.9 237.5h1M348.8 239.7h1M349.7 222.0h1M357.2 224.8h1M355.4 220.5h1M355.5 224.2h1M357.0 221.6h1M355.9 230.5h1M354.1 231.6h1M355.9 222.9h1M343.7 230.5h1M350.7 228.2h1M357.9 218.5h1M351.5 227.2h1M349.2 233.5h1M354.3 226.2h1M348.9 236.9h1M350.5 235.6h1M357.9 219.2h1M349.5 231.3h1M354.2 237.6h1M355.7 239.7h1M352.6 230.3h1M357.4 229.6h1M359.9 221.7h1M356.6 231.3h1M344.9 237.4h1M355.0 232.4h1M350.1 228.0h1M360.8 227.3h1M341.2 223.6h1M349.2 230.3h1M353.4 225.4h1M349.2 238.7h1M345.7 244.6h1M353.0 224.0h1M356.2 236.5h1M348.8 236.5h1M347.7 224.3h1M358.5 231.0h1M348.0 234.7h1M357.4 232.5h1M347.1 228.3h1M354.5 237.6h1M361.4 231.5h1M351.9 231.4h1M359.7 226.3h1M362.3 213.8h1M357.8 227.9h1M354.8 237.1h1M349.2 230.6h1M354.0 236.2h1M351.3 224.5h1M343.1 248.3h1M353.3 230.3h1M346.8 237.4h1M349.9 241.6h1M357.1 232.7h1M358.0 224.8h1M353.2 227.8h1M348.8 231.2h1M351.5 241.9h1M341.4 225.0h1M350.7 228.1h1M355.0 235.1h1M354.5 228.7h1M355.3 234.8h1M346.9 228.9h1M349.8 222.8h1M354.3 232.5h1M355.3 226.0h1M354.1 225.5h1M354.5 237.0h1M359.2 242.0h1M351.2 228.3h1M349.7 233.5h1M360.7 238.3h1M346.7 221.7h1M348.1 234.7h1M353.4 234.1h1M361.8 227.5h1M348.1 245.1h1M356.1 226.8h1M347.7 220.0h1M344.1 230.8h1M352.8 238.9h1M354.1 227.1h1M348.6 244.7h1M346.6 232.0h1M353.1 236.3h1M351.6 235.2h1M357.2 231.5h1M352.2 230.4h1M350.3 229.9h1M352.4 233.2h1M357.5 242.0h1M351.3 235.9h1M354.0 237.5h1M353.6 233.9h1M352.9 226.2h1M355.6 241.6h1M355.9 235.5h1M355.4 229.1h1M346.0 235.4h1M355.3 228.3h1M348.4 240.2h1M344.5 243.0h1M353.4 248.9h1M351.0 231.4h1M351.6 232.7h1M353.9 226.7h1M359.0 227.3h1M351.1 235.5h1M352.2 228.6h1M355.7 229.7h1M349.0 230.4h1M350.8 243.7h1M348.3 238.0h1M351.1 229.0h1M352.2 233.7h1M355.1 244.7h1M349.7 240.8h1M356.7 238.3h1M349.7 237.7h1M352.9 234.4h1M351.9 236.4h1M356.8 240.6h1M351.8 238.8h1M360.7 226.5h1M361.2 223.8h1M355.2 236.5h1M359.3 235.0h1M352.9 226.1h1M347.9 236.4h1M353.7 226.9h1M356.8 227.1h1M352.6 228.5h1M358.5 243.3h1M355.1 221.0h1M354.8 232.7h1M354.5 236.2h1M351.4 238.2h1M356.8 234.0h1M352.8 228.4h1M357.9 224.9h1M354.1 226.7h1M347.6 235.2h1M353.7 232.2h1M359.1 222.2h1M353.2 234.0h1M358.4 225.1h1M356.4 234.0h1M357.7 240.8h1M353.3 247.3h1M354.3 229.1h1M353.6 225.2h1M356.0 218.9h1M352.9 234.9h1M358.1 230.3h1M360.1 228.4h1M355.6 218.9h1M351.8 226.0h1M358.9 236.6h1M348.9 234.9h1M355.9 230.7h1M354.3 229.9h1M353.8 219.6h1M351.9 240.6h1M359.6 231.1h1M351.2 230.1h1M356.8 235.0h1M351.1 234.1h1M352.4 235.4h1M354.0 221.8h1M353.1 237.2h1M349.7 230.5h1M357.6 230.1h1M348.9 245.3h1M355.8 239.5h1M348.2 242.4h1M348.1 227.4h1M355.1 241.5h1M351.0 226.9h1M356.8 219.1h1M355.6 236.2h1M351.4 235.3h1M356.4 234.6h1M354.0 242.6h1M351.8 232.8h1M350.6 238.6h1M351.7 234.9h1M354.2 232.5h1M360.5 232.6h1M358.2 238.5h1M359.0 231.8h1M356.4 237.7h1M351.1 233.4h1M353.4 231.7h1M359.6 228.0h1M349.5 219.2h1M352.8 227.4h1M353.2 235.8h1M360.1 235.3h1M356.4 227.4h1M354.4 241.5h1M361.2 219.8h1M355.3 243.2h1M358.7 222.6h1M351.9 235.7h1M356.3 226.9h1M349.3 237.9h1M347.0 240.7h1M353.5 234.0h1M349.4 227.1h1M358.1 222.6h1M363.3 224.0h1M349.1 231.5h1M354.8 237.2h1M352.6 230.4h1M353.6 228.0h1M342.9 236.7h1M354.6 233.2h1M351.1 233.3h1M353.8 231.5h1M360.0 221.3h1M356.0 225.1h1M350.8 241.8h1M349.8 230.6h1M350.4 237.9h1M352.1 220.1h1M356.2 230.0h1M351.3 239.0h1M350.9 228.9h1M353.9 234.9h1M350.6 238.6h1M362.8 230.8h1M363.4 219.2h1M359.5 230.6h1M354.7 229.8h1M352.9 223.1h1M350.8 240.4h1M358.5 230.4h1M352.6 227.0h1M347.1 243.2h1M356.2 233.2h1M353.1 224.9h1M357.9 238.1h1M349.0 238.0h1M348.9 235.5h1M350.7 228.6h1M355.2 235.2h1M358.6 227.1h1M358.2 242.0h1M353.2 235.1h1M351.0 230.5h1M348.7 231.7h1M353.0 241.1h1M356.4 238.1h1M352.7 230.3h1M352.2 233.3h1M345.6 235.8h1M348.5 227.5h1M354.5 228.6h1M360.2 232.5h1M358.4 240.9h1M351.4 234.3h1M359.1 230.6h1M354.8 228.3h1M354.4 229.7h1M352.9 238.7h1M358.9 233.8h1M353.6 237.8h1M353.9 224.8h1M359.1 226.5h1M358.5 226.2h1M361.9 226.3h1M355.2 242.6h1M348.4 241.3h1M352.8 219.7h1M355.7 237.2h1M356.0 215.0h1M354.0 229.9h1M352.7 229.8h1M347.7 227.0h1M358.8 243.5h1M353.3 227.0h1M354.1 239.3h1M357.9 224.7h1M354.2 233.0h1M357.8 240.9h1M354.4 240.4h1M350.5 242.0h1M351.7 234.4h1M358.3 226.5h1M353.2 219.8h1M354.5 231.7h1M352.0 235.1h1M345.8 230.4h1M354.4 230.3h1M354.7 244.2h1M353.2 225.4h1M351.4 232.2h1M357.0 226.7h1M358.8 225.8h1M356.4 235.4h1M353.0 246.7h1M353.0 230.7h1M354.6 238.1h1M348.4 232.9h1M350.3 235.7h1M358.9 233.3h1M353.2 233.2h1M341.7 235.2h1M355.7 233.5h1M353.2 226.9h1M351.7 240.0h1M351.8 240.9h1M344.6 227.2h1M354.9 232.1h1M348.3 226.5h1M360.0 224.2h1M351.3 224.0h1M351.0 235.9h1M358.4 218.9h1M360.0 229.0h1M349.6 242.7h1M354.9 223.7h1M352.2 226.7h1M350.4 229.1h1M356.7 234.9h1M345.3 249.6h1M349.9 232.1h1M353.0 237.1h1M352.0 234.8h1M361.7 234.0h1M349.3 233.5h1M351.2 229.0h1M354.1 234.4h1M351.7 237.5h1M354.6 223.2h1M357.5 230.2h1M359.2 228.4h1M355.6 234.5h1M345.4 220.3h1M347.9 240.6h1M345.6 236.8h1M357.3 236.0h1M356.9 229.1h1M353.5 233.5h1M354.6 237.0h1M353.8 227.2h1M351.2 234.4h1M349.0 222.5h1M352.9 228.0h1M355.9 214.1h1M352.8 230.1h1M359.1 219.3h1M352.1 235.0h1M354.2 240.3h1M359.0 225.7h1M356.6 230.2h1M349.0 241.7h1M352.4 225.9h1M353.3 226.0h1M357.2 235.2h1M358.6 235.7h1M350.2 238.6h1M351.9 228.5h1M353.1 232.1h1M359.0 228.8h1M355.2 232.1h1M350.3 223.8h1M352.5 234.6h1M354.5 235.4h1M354.5 229.0h1M356.6 225.6h1M349.1 228.9h1M349.0 227.6h1M351.6 227.8h1M354.6 226.6h1M354.2 220.3h1M355.4 226.2h1M358.7 213.4h1M350.5 233.1h1M345.0 228.0h1M354.0 232.8h1M347.8 232.5h1M355.5 225.6h1M356.7 232.2h1M354.4 229.0h1M355.8 233.0h1M357.6 235.8h1M351.7 230.1h1M357.7 230.2h1M354.6 235.8h1M355.9 216.3h1M354.0 233.5h1M355.2 227.0h1M358.6 231.9h1M352.3 226.8h1M356.5 224.9h1M347.6 244.7h1M357.5 240.0h1M358.3 236.9h1M346.0 238.9h1M357.9 236.1h1M344.9 239.0h1M359.6 229.6h1M353.4 237.3h1M352.2 239.3h1M353.3 236.7h1M355.9 222.1h1M346.2 252.6h1M353.3 241.0h1M356.1 244.3h1M356.6 228.4h1M356.1 219.1h1M352.0 238.0h1M345.3 231.9h1M355.4 241.5h1M351.0 227.0h1M347.8 223.9h1M353.4 246.3h1M347.8 240.5h1M356.0 229.0h1M365.2 216.5h1M353.3 233.4h1M359.8 245.5h1M362.3 234.4h1M355.9 241.9h1M355.3 234.8h1M353.6 229.1h1M346.8 244.3h1M354.6 217.7h1M354.9 231.9h1M352.3 244.4h1M353.7 230.1h1M351.0 231.3h1M351.9 233.1h1M365.3 236.8h1M348.2 244.4h1M356.1 238.1h1M355.6 238.0h1M354.7 242.0h1M356.1 241.8h1M351.9 231.6h1M349.9 238.0h1M357.5 229.4h1M352.9 250.1h1M359.9 225.3h1M352.7 236.2h1M353.2 234.6h1M357.9 235.0h1M348.7 236.1h1M353.3 232.7h1M353.3 222.3h1M349.4 228.8h1M352.9 212.9h1M359.6 224.9h1M350.4 235.1h1M343.0 239.4h1M350.1 235.9h1M351.6 233.7h1M354.2 232.1h1M348.5 220.8h1M352.0 241.5h1M351.1 235.2h1M353.8 235.4h1M359.4 222.5h1M355.1 231.0h1M353.6 226.0h1M352.0 224.5h1M346.6 248.2h1M360.3 233.2h1M357.8 225.9h1M345.3 217.8h1M352.6 241.8h1M354.8 225.2h1M354.1 225.1h1M348.7 229.5h1M353.2 226.2h1M351.5 225.1h1M353.0 241.6h1M350.3 247.0h1M347.3 232.8h1M349.6 230.1h1M353.5 235.8h1M358.8 229.0h1M349.3 229.9h1M355.8 227.5h1M355.2 244.0h1M347.9 233.5h1M360.0 219.7h1M354.9 230.6h1M346.8 239.9h1M355.2 228.9h1M354.7 236.6h1M356.1 236.4h1M356.8 224.3h1M352.0 232.6h1M340.6 244.5h1M353.6 224.6h1M346.5 232.5h1M354.6 228.1h1M353.3 225.7h1M351.0 230.8h1M350.5 236.2h1M353.1 232.8h1M353.8 240.9h1M355.8 234.0h1M354.1 226.4h1M351.7 236.4h1M355.1 229.5h1M350.5 220.7h1M353.8 239.2h1M356.9 223.0h1M352.7 233.4h1M349.9 233.7h1M354.0 226.2h1M348.1 236.6h1M356.2 226.2h1M348.8 237.3h1M356.5 230.3h1M360.3 231.1h1M348.4 238.7h1M352.7 234.2h1M355.1 225.3h1M349.5 229.9h1M360.4 226.2h1M358.7 234.4h1M349.2 233.0h1M357.0 226.3h1M345.2 233.0h1M349.0 234.2h1M346.6 229.7h1M352.5 221.5h1M352.7 233.0h1M353.1 223.7h1M356.7 220.3h1M355.3 235.7h1M359.2 239.1h1M354.8 234.0h1M355.5 223.1h1M358.8 236.5h1M354.1 224.1h1M358.9 236.6h1M348.5 235.7h1M361.1 233.1h1M355.8 229.5h1M350.1 238.8h1M365.4 234.9h1M352.4 237.3h1M351.8 236.7h1M358.2 225.7h1M349.8 230.8h1M356.7 234.4h1M360.2 223.6h1M356.4 228.1h1M353.8 234.2h1M350.4 229.8h1M349.0 233.0h1M351.1 228.1h1M355.4 227.7h1M358.9 228.5h1M356.7 234.5h1M350.1 229.8h1M351.0 229.0h1M350.6 244.1h1M350.3 242.3h1M357.1 223.5h1M344.2 235.0h1M345.3 235.5h1M357.3 235.3h1M353.3 230.2h1M355.1 230.1h1M352.2 229.2h1M359.0 228.6h1M356.6 224.5h1M352.7 222.3h1M352.2 236.5h1M355.5 228.9h1M356.5 230.1h1M354.9 234.1h1M358.8 215.7h1M347.9 236.3h1M350.7 247.0h1M353.6 228.1h1M358.8 236.7h1M360.4 236.7h1M352.2 236.7h1M351.3 228.5h1M351.9 230.1h1M357.3 229.3h1M355.6 228.9h1M360.4 214.1h1M352.8 233.0h1M348.5 238.1h1M353.1 240.7h1M356.7 236.9h1M354.5 224.6h1M353.5 228.8h1M355.3 229.0h1M367.3 223.3h1M358.8 229.6h1M351.8 238.0h1M355.2 223.9h1M355.6 231.0h1M345.7 231.9h1M350.7 226.3h1M355.3 234.3h1M350.1 246.3h1M356.1 228.2h1M354.8 231.3h1M347.3 220.0h1M346.1 244.9h1M353.4 230.0h1M350.5 238.2h1M351.9 243.4h1M354.9 243.5h1M352.9 234.4h1M352.4 230.6h1M347.9 226.9h1M351.0 227.0h1M358.1 234.6h1M357.4 238.6h1M356.1 239.3h1M350.6 237.0h1M353.2 228.2h1M355.8 247.3h1M348.0 243.0h1M358.0 226.9h1M354.4 234.7h1M355.6 229.9h1M348.9 231.3h1M356.1 237.8h1M355.0 239.8h1M350.1 231.1h1M353.9 238.9h1M353.8 235.6h1M351.8 246.1h1M345.5 230.4h1M362.9 235.2h1M346.7 231.7h1M349.2 226.5h1M352.6 243.6h1M354.8 236.8h1M357.4 234.0h1M350.7 230.8h1M355.4 230.4h1M351.7 229.2h1M349.3 224.1h1M353.9 229.5h1M352.3 241.4h1M355.0 232.0h1M350.6 224.0h1M356.3 226.4h1M356.7 225.1h1M354.4 231.6h1M358.0 230.0h1M352.1 233.4h1M352.0 243.3h1M353.5 228.2h1M352.0 235.0h1M353.9 236.8h1M345.6 247.6h1M360.8 233.0h1M349.0 232.2h1M358.0 217.4h1M355.6 222.1h1M353.9 241.5h1M359.5 222.6h1M358.0 239.0h1M351.8 235.1h1M359.9 230.8h1M354.4 228.3h1M360.7 218.4h1M360.3 226.5h1M359.2 221.8h1M351.0 227.4h1M358.8 221.7h1M356.8 228.2h1M358.9 230.8h1M355.8 231.2h1M361.0 230.8h1M351.4 245.2h1M353.3 236.6h1M350.8 232.8h1M345.1 231.2h1M353.1 221.5h1M347.1 238.7h1M357.2 222.2h1M361.5 228.6h1M352.1 233.4h1M351.4 220.4h1M349.6 239.4h1M359.3 222.1h1M358.3 233.0h1M355.6 232.7h1M356.5 225.6h1M351.2 226.7h1M351.7 235.9h1M347.3 241.8h1M352.1 227.6h1M356.0 235.4h1M353.8 224.6h1M351.9 220.7h1M356.9 240.0h1M360.3 236.6h1M354.2 237.3h1M357.7 230.9h1M352.6 246.6h1M349.0 221.5h1M349.3 236.4h1M358.7 230.5h1M356.4 232.1h1M355.6 228.6h1M353.7 232.0h1M355.5 247.7h1M346.3 234.3h1M352.6 238.5h1M356.9 237.9h1M358.0 226.2h1M345.4 242.0h1M359.5 226.4h1M357.9 237.3h1M343.4 236.4h1M348.7 239.1h1M352.1 226.6h1M348.2 229.5h1M358.5 228.2h1M344.2 245.1h1M360.0 237.8h1M353.2 223.5h1M346.9 234.6h1M360.0 225.8h1M354.1 230.1h1M352.2 235.2h1M362.5 229.1h1M355.7 239.8h1M352.9 230.8h1M347.4 238.3h1M352.6 227.3h1M355.1 226.3h1M350.2 229.3h1M359.7 231.6h1M357.5 222.5h1M344.3 242.9h1M354.1 221.4h1M352.7 236.0h1M348.3 224.9h1M355.9 226.0h1M355.7 239.0h1M356.0 229.4h1M354.4 227.7h1M352.9 234.0h1M351.5 238.3h1M364.3 230.1h1M354.1 237.7h1M356.5 230.8h1M350.8 238.4h1M355.6 235.8h1M350.0 235.7h1M357.0 231.3h1M353.7 247.0h1M345.9 234.8h1M351.0 222.1h1M352.3 235.5h1M355.4 224.2h1M349.0 227.3h1M354.8 226.4h1M346.0 242.8h1M350.8 230.4h1M352.4 227.7h1M354.3 230.0h1M357.6 224.5h1M345.8 244.1h1M352.6 237.1h1M357.6 236.5h1M355.8 221.6h1M346.5 237.5h1M355.7 236.3h1M350.0 216.6h1M351.2 223.4h1M355.6 225.2h1M360.6 228.9h1M350.6 237.4h1M356.1 226.2h1M354.7 245.5h1M349.4 229.5h1M352.0 218.2h1M355.4 237.1h1M357.0 235.5h1M346.1 230.5h1M352.6 223.6h1M348.7 236.4h1M350.3 245.0h1M357.9 219.5h1M355.7 241.0h1M355.4 223.8h1M362.1 224.3h1M355.7 219.1h1M351.0 219.7h1M356.6 240.7h1M353.9 222.6h1M353.1 234.5h1M349.3 223.1h1M352.6 236.7h1M353.6 235.1h1M352.0 214.3h1M356.1 226.0h1M353.8 229.4h1M356.6 227.1h1M359.3 233.2h1M355.1 236.6h1M357.3 235.4h1M347.8 226.6h1M360.4 236.5h1M355.4 235.5h1M352.1 227.0h1M349.9 239.4h1M353.1 244.3h1M353.5 245.2h1M357.0 224.3h1M360.1 235.5h1M358.1 234.3h1M352.3 232.9h1M350.9 223.1h1M351.0 227.8h1M348.7 230.4h1M352.5 246.0h1M361.0 232.9h1M357.5 231.1h1M355.4 232.0h1M351.6 232.1h1M347.6 234.0h1M354.0 224.4h1M351.7 235.5h1M350.6 234.8h1M354.1 243.0h1M349.7 230.5h1M354.0 242.6h1M353.9 237.3h1M348.8 227.0h1M360.6 231.2h1M363.1 228.5h1M354.6 220.9h1M355.9 234.2h1M361.4 234.5h1M354.5 222.2h1M352.3 238.4h1M355.2 240.9h1M357.2 232.3h1M355.9 233.6h1M346.6 242.8h1M356.5 225.1h1M355.0 234.2h1M355.9 242.6h1M341.3 233.7h1M360.9 226.5h1M346.2 232.6h1M354.7 234.6h1M350.0 228.0h1M353.7 237.2h1M362.0 235.5h1M354.3 215.4h1M358.1 231.8h1M354.6 225.1h1M358.8 220.2h1M354.1 232.9h1M353.4 241.2h1M353.3 232.6h1M359.0 221.9h1M352.6 232.3h1M358.5 227.2h1M356.5 235.2h1M349.8 220.8h1M348.0 232.0h1M353.7 237.1h1M357.7 228.8h1M357.0 238.4h1M355.1 235.6h1M348.3 233.6h1M351.2 223.1h1M352.3 232.7h1M354.0 229.7h1M349.7 232.6h1M352.6 221.8h1M352.4 242.1h1M353.5 224.4h1M357.1 244.8h1M352.9 230.3h1M351.0 252.5h1M353.1 239.0h1M357.8 219.7h1M351.0 222.7h1M355.4 233.0h1M361.1 231.4h1M354.9 232.7h1M351.5 248.1h1M353.1 242.4h1M359.6 228.7h1M357.0 229.8h1M354.0 233.2h1M354.5 228.8h1M360.2 231.2h1M354.5 244.1h1M355.0 239.5h1M357.9 240.5h1M362.3 223.3h1M361.5 233.5h1M347.7 226.4h1M348.3 230.9h1M349.2 224.0h1M354.8 233.3h1M351.0 229.8h1M353.3 232.4h1M354.0 230.5h1M359.2 221.5h1M351.7 232.6h1M352.9 227.9h1M351.8 233.1h1M358.9 231.6h1M352.3 234.3h1M355.2 218.4h1M355.3 229.6h1M350.8 236.0h1M354.7 228.1h1M347.3 218.6h1M354.0 231.2h1M355.3 233.9h1M353.5 222.9h1M349.7 230.3h1M348.4 236.4h1M350.8 218.7h1M355.2 219.6h1M361.4 226.2h1M353.9 230.3h1M352.7 219.2h1M345.4 236.7h1M355.2 247.7h1M347.4 234.9h1M352.7 237.9h1M350.9 236.6h1M356.6 236.8h1M359.7 231.8h1M360.7 228.2h1M363.7 214.1h1M354.8 226.5h1M352.5 239.2h1M356.5 233.2h1M362.3 222.9h1M348.7 241.9h1M357.6 217.8h1M356.6 224.0h1M358.2 241.0h1M350.1 240.6h1M349.4 237.8h1M356.2 231.5h1M348.5 229.1h1M345.5 226.5h1M345.0 239.1h1M353.0 214.5h1M355.7 235.0h1M349.2 246.3h1M356.8 233.0h1M354.9 211.0h1M354.5 239.0h1M353.2 221.8h1M355.7 220.4h1M352.9 237.4h1M359.4 234.9h1M353.7 237.3h1M359.7 230.8h1M349.9 225.7h1M349.9 225.0h1M352.9 234.3h1M354.3 232.6h1M351.9 234.7h1M356.4 237.9h1M360.1 231.0h1M350.7 243.6h1M354.1 235.0h1M351.3 238.5h1M353.4 224.7h1M354.1 228.9h1M357.5 230.0h1M354.6 230.6h1M355.9 227.9h1M359.9 222.9h1M353.1 226.8h1M356.3 232.7h1M356.1 230.0h1M352.3 223.7h1M353.1 228.1h1M354.5 234.7h1M357.8 231.9h1M352.1 224.1h1M353.6 234.5h1M361.3 234.6h1M358.4 246.2h1M348.2 239.7h1M356.6 242.1h1M352.6 238.6h1M352.0 231.2h1M351.7 244.4h1M351.8 238.5h1M354.9 227.1h1M353.9 236.7h1M350.2 235.9h1M352.1 225.4h1M355.0 230.5h1M351.9 220.0h1M353.6 233.7h1M351.8 233.0h1M347.3 233.7h1M355.1 234.2h1M351.3 232.1h1M353.0 239.5h1M354.6 234.0h1M349.9 237.5h1M359.0 229.4h1M355.9 234.6h1M355.2 223.0h1M363.0 220.3h1M355.5 229.6h1M358.8 229.9h1M353.2 236.3h1M356.2 228.7h1M356.0 235.2h1M358.3 229.1h1M354.1 229.3h1M350.2 233.2h1M353.7 242.1h1M352.0 234.5h1M358.4 232.0h1M353.9 233.0h1M352.3 224.7h1M358.0 234.0h1M355.0 223.4h1M352.8 240.2h1M350.4 225.0h1M356.4 242.7h1M360.6 229.3h1M357.1 227.2h1M356.3 229.8h1M352.9 241.4h1M355.4 230.6h1M353.7 233.9h1M351.5 233.1h1M354.3 243.2h1M347.2 222.4h1M347.9 237.2h1M363.1 235.0h1M352.9 239.9h1M344.5 229.1h1M341.4 230.9h1M352.4 228.3h1M355.8 228.2h1M358.2 232.7h1M352.2 249.8h1M350.9 238.1h1M349.0 240.0h1M357.4 233.6h1M355.7 243.8h1M359.2 233.0h1M352.2 239.6h1M348.8 226.8h1M355.0 236.3h1M358.9 245.4h1M354.5 235.3h1M348.9 229.8h1M355.1 230.6h1M353.3 236.2h1M350.8 227.4h1M345.5 238.6h1M351.7 219.6h1M357.1 231.1h1M358.0 230.1h1M361.2 238.4h1M354.2 232.9h1M352.0 237.4h1M362.1 230.5h1M348.8 235.4h1M359.8 222.5h1M352.3 224.7h1M355.4 235.9h1M352.3 223.8h1M358.9 218.4h1M356.5 231.4h1M360.1 240.1h1M351.9 229.7h1M353.6 226.8h1M353.0 238.7h1M348.2 229.4h1M358.7 238.1h1M351.6 225.9h1M352.4 220.4h1M358.2 233.3h1M352.8 221.7h1M352.9 228.2h1M361.0 230.0h1M353.0 239.4h1M356.6 231.2h1M343.6 240.1h1M356.6 229.4h1M354.6 225.4h1M352.1 221.3h1M355.1 235.9h1M353.5 237.4h1M355.7 233.2h1M349.7 235.4h1M357.6 237.1h1M359.2 229.6h1M348.5 239.9h1M351.2 233.3h1M353.0 232.0h1M353.4 228.1h1M344.6 243.8h1M356.9 219.0h1M351.6 223.7h1M354.0 214.1h1M354.1 243.6h1M352.0 236.9h1M357.6 223.9h1M360.5 221.4h1M352.0 229.2h1M358.5 233.7h1M354.3 226.4h1M354.1 232.3h1M354.9 242.0h1M356.6 232.6h1M351.3 242.8h1M354.6 232.0h1M358.9 243.9h1M356.1 231.6h1M350.1 238.8h1M350.9 238.2h1M350.7 232.2h1M355.2 233.3h1M354.2 234.7h1M350.8 223.7h1M351.1 244.2h1M354.4 225.6h1M351.2 231.8h1M359.0 229.0h1M355.7 233.7h1M353.6 225.4h1M354.1 227.0h1M358.0 220.4h1M357.2 237.9h1M354.2 242.5h1M358.2 220.8h1M353.5 235.1h1M352.5 223.9h1M354.9 235.8h1M352.5 230.1h1M352.5 227.8h1M352.3 239.2h1M348.0 228.6h1M359.6 235.2h1M353.4 237.8h1M351.4 223.1h1M349.2 221.0h1M353.7 237.9h1M353.0 227.1h1M354.6 236.4h1M357.1 219.3h1M354.7 214.5h1M355.7 226.4h1M349.5 241.7h1M358.3 236.2h1M354.7 233.4h1M351.6 231.3h1M362.2 227.4h1M351.1 232.6h1M356.2 238.2h1M350.2 230.5h1M354.3 223.5h1M354.7 228.8h1M356.8 235.5h1M350.7 232.0h1M353.2 227.5h1M350.7 238.9h1M354.3 220.2h1M349.9 236.9h1M363.3 226.3h1M352.8 229.5h1M347.9 233.8h1M353.3 233.9h1M362.7 231.7h1M355.8 238.2h1M352.1 227.6h1M358.9 237.9h1M355.7 224.7h1M356.6 236.2h1M360.5 243.4h1M356.6 234.4h1M354.7 228.3h1M354.7 233.9h1M355.0 239.8h1M355.6 228.6h1M355.0 243.0h1M350.1 234.3h1M355.3 236.0h1M355.8 231.7h1M351.4 243.3h1M362.1 223.7h1M343.6 233.2h1M351.8 228.1h1M347.3 233.3h1M354.2 228.3h1M354.3 249.0h1M358.1 240.9h1M351.4 236.2h1M352.3 239.8h1M356.1 232.2h1M356.8 227.5h1M355.0 242.7h1M351.8 235.5h1M346.3 237.2h1M358.4 225.7h1M360.3 233.9h1M348.8 221.6h1M357.5 230.8h1M359.9 222.3h1M352.3 238.5h1M350.4 236.1h1M352.0 234.1h1M352.4 247.3h1M348.1 236.4h1M360.2 225.3h1M351.4 247.6h1M361.3 212.7h1M354.9 220.3h1M355.8 227.3h1M352.6 226.0h1M355.5 229.1h1M350.6 229.9h1M356.4 226.5h1M360.0 221.6h1M355.8 229.7h1M360.6 228.7h1M352.9 222.5h1M360.7 237.5h1M350.0 229.0h1M348.3 241.6h1M357.8 218.6h1M353.5 238.3h1M353.2 235.2h1M353.1 233.3h1M355.5 227.4h1M354.9 233.4h1M354.5 227.4h1M349.6 233.0h1M359.8 216.3h1M350.1 240.8h1M358.2 227.8h1M360.1 226.3h1M348.5 244.5h1M352.4 230.2h1M348.7 224.1h1M349.5 230.3h1M345.5 237.9h1M353.2 227.7h1M350.5 236.6h1M360.2 230.3h1M362.6 246.9h1M361.2 234.8h1M346.0 238.2h1M351.8 233.8h1M343.9 229.4h1M355.2 223.3h1M355.6 247.5h1M355.2 225.7h1M366.8 212.1h1M349.1 235.8h1M350.8 210.8h1M355.4 239.7h1M349.7 245.6h1M356.7 243.0h1M345.8 232.0h1M362.6 250.6h1M361.1 232.0h1M355.0 226.2h1M359.9 225.6h1M354.7 212.9h1M345.9 248.5h1M354.3 234.0h1M342.2 231.7h1M365.1 218.1h1M341.3 230.5h1M351.2 230.1h1M347.3 219.4h1M347.4 237.9h1M353.7 239.6h1M348.2 237.5h1M351.6 232.8h1M359.0 232.3h1M352.1 216.6h1M354.3 239.3h1M350.6 231.4h1M344.5 219.6h1M356.2 244.0h1M352.3 216.5h1M352.0 217.5h1M352.5 250.0h1M355.6 230.6h1M359.6 228.5h1M355.8 233.9h1M356.4 218.3h1M357.8 240.2h1M341.7 206.7h1M349.2 245.9h1M354.1 238.3h1M357.0 240.3h1M350.6 226.5h1M356.0 237.7h1M357.1 235.2h1M351.4 242.3h1M356.5 241.9h1M340.3 241.4h1M340.8 234.0h1M350.4 233.1h1M351.4 229.1h1M355.0 235.2h1M349.7 208.3h1M345.0 249.1h1M344.8 248.8h1M346.9 244.7h1M353.7 252.4h1M348.0 247.4h1M352.8 243.6h1M344.6 250.9h1M352.5 246.0h1M345.0 248.5h1M342.2 246.0h1M347.5 240.2h1M351.1 249.8h1M353.2 243.2h1M342.8 245.1h1M342.7 253.6h1M344.2 246.6h1M349.4 248.9h1M355.0 244.3h1M352.4 247.9h1M343.3 247.9h1M342.3 252.3h1M345.2 250.5h1M354.3 245.7h1M344.5 247.9h1M343.8 250.2h1M349.3 245.2h1M345.4 249.7h1M342.0 252.5h1M345.0 246.9h1M344.4 252.3h1M352.2 251.4h1M351.4 247.8h1M356.1 249.5h1M350.5 249.2h1M351.8 248.3h1M347.8 242.7h1M357.7 243.6h1M338.9 245.4h1M357.2 251.1h1M345.8 248.3h1M348.4 241.6h1M347.0 248.4h1M353.8 243.9h1M338.4 242.8h1M350.0 247.7h1M349.2 247.9h1M346.9 243.4h1M350.5 248.7h1M351.1 251.2h1M342.9 240.5h1M340.5 253.9h1M344.4 248.7h1M348.4 249.7h1M362.9 246.0h1M347.7 245.7h1M349.6 249.1h1M344.1 251.4h1M353.7 248.8h1M348.0 246.8h1M341.1 249.5h1M344.1 246.0h1M353.0 244.7h1M346.2 250.1h1M356.9 245.4h1M353.5 245.5h1M350.2 249.0h1M343.4 250.6h1M356.6 247.7h1M349.7 244.0h1M356.5 247.7h1M342.8 249.8h1M341.9 245.4h1M338.9 251.6h1M358.4 245.6h1M345.6 245.8h1M346.0 249.2h1M355.1 244.5h1M350.5 242.1h1M355.4 247.2h1M345.3 252.1h1M348.0 251.6h1M353.3 252.5h1M344.9 247.7h1M350.2 246.9h1M355.4 245.4h1M353.0 251.6h1M339.7 244.6h1M344.4 245.9h1M350.3 247.0h1M348.9 246.1h1M348.1 249.0h1M351.9 245.2h1M348.0 245.2h1M347.7 243.2h1M352.8 249.5h1M347.9 245.4h1M346.4 245.5h1M341.6 252.4h1M363.3 243.8h1M343.2 249.2h1M351.2 242.8h1M339.9 249.1h1M339.5 251.8h1M346.3 247.8h1M348.5 245.8h1M347.9 246.6h1M354.1 247.2h1M348.4 245.9h1M345.6 245.3h1M348.5 253.0h1M353.5 248.2h1M356.0 250.5h1M349.4 247.0h1M343.6 248.2h1M347.1 242.7h1M342.7 253.3h1M349.5 249.0h1M349.4 246.1h1M350.6 250.8h1M347.1 249.0h1M353.1 246.1h1M349.3 245.3h1M351.2 246.4h1M353.7 245.2h1M356.1 246.6h1M344.7 244.8h1M351.5 244.9h1M356.6 251.3h1M350.8 243.2h1M348.4 245.3h1M340.3 248.8h1M358.4 245.9h1M352.1 251.4h1M344.2 246.5h1M349.7 248.9h1M343.3 248.1h1M348.0 250.4h1M341.3 245.8h1M346.2 246.5h1M351.8 245.6h1M360.8 245.4h1M352.3 250.6h1M352.8 246.9h1M344.8 246.7h1M351.5 247.9h1M351.1 249.2h1M344.5 244.7h1M355.0 246.0h1M341.4 253.1h1M344.7 244.7h1M352.9 244.1h1M344.6 250.6h1M344.8 255.0h1M348.9 255.6h1M349.1 247.7h1M345.6 246.8h1M346.2 247.4h1M352.0 243.7h1M344.4 241.2h1M355.3 247.3h1M348.4 247.3h1M353.0 248.5h1M352.3 247.0h1M348.0 247.3h1M340.1 250.8h1M341.4 244.5h1M351.5 247.7h1M352.2 252.6h1M356.9 251.6h1M347.5 253.6h1M338.9 248.4h1M341.2 248.2h1M339.9 248.1h1M341.6 245.5h1M341.5 249.8h1M339.9 249.2h1M338.8 249.8h1M343.7 247.4h1M341.7 248.4h1M339.6 247.9h1M339.8 247.0h1M338.4 250.5h1M340.0 249.2h1M340.4 249.1h1M338.2 247.4h1M340.8 249.7h1M338.6 247.8h1M338.7 249.3h1M340.4 248.5h1M339.2 248.9h1M340.0 247.6h1M340.4 247.7h1M341.1 249.3h1M339.2 249.2h1M340.1 247.7h1M331.1 241.3h1M329.6 249.4h1M346.0 245.5h1M338.6 249.4h1M343.0 249.8h1M346.1 251.1h1M332.2 249.6h1M321.1 247.3h1M337.6 250.3h1M335.4 251.3h1M346.7 244.6h1M333.7 249.0h1M338.7 245.5h1M340.2 240.9h1M340.0 249.1h1M341.5 246.5h1M335.4 246.4h1M336.2 239.4h1M333.8 244.9h1M334.2 241.7h1M335.5 243.7h1M336.8 244.8h1M337.3 248.5h1M337.1 246.4h1M331.0 234.7h1M334.7 247.4h1M335.0 242.8h1M330.9 248.1h1M334.1 245.9h1M341.6 246.9h1M346.6 244.5h1M340.8 247.4h1M333.6 245.2h1M334.0 241.4h1" stroke="#262626" stroke-width="1.15" fill="none"/>
<line x1="341.7" y1="187.1" x2="341.7" y2="263.2" stroke="#000" stroke-width="1.1"/>
<line x1="313.8" y1="241.7" x2="392.2" y2="241.7" stroke="#000" stroke-width="1.1"/>
<circle cx="341.7" cy="242.0" r="2.1" fill="#000"/>
<text x="354.5" y="179" font-size="9.2" text-anchor="middle" font-weight="normal">- MPO</text>
<text x="361" y="194" font-size="7.5" text-anchor="start" font-weight="normal">88 (%)</text>
<text x="361" y="203.8" font-size="7.5" text-anchor="start" font-weight="normal">60 (MFI)</text>
<rect x="400.6" y="187.1" width="77.29999999999995" height="76.1" fill="#fff" stroke="#000" stroke-width="1.2"/>
<line x1="398.6" y1="187.1" x2="400.6" y2="187.1" stroke="#000" stroke-width="0.9"/>
<line x1="400.6" y1="263.2" x2="400.6" y2="265.2" stroke="#000" stroke-width="0.9"/>
<line x1="398.6" y1="206.125" x2="400.6" y2="206.125" stroke="#000" stroke-width="0.9"/>
<line x1="419.925" y1="263.2" x2="419.925" y2="265.2" stroke="#000" stroke-width="0.9"/>
<line x1="398.6" y1="225.14999999999998" x2="400.6" y2="225.14999999999998" stroke="#000" stroke-width="0.9"/>
<line x1="439.25" y1="263.2" x2="439.25" y2="265.2" stroke="#000" stroke-width="0.9"/>
<line x1="398.6" y1="244.17499999999998" x2="400.6" y2="244.17499999999998" stroke="#000" stroke-width="0.9"/>
<line x1="458.575" y1="263.2" x2="458.575" y2="265.2" stroke="#000" stroke-width="0.9"/>
<line x1="398.6" y1="263.2" x2="400.6" y2="263.2" stroke="#000" stroke-width="0.9"/>
<line x1="477.9" y1="263.2" x2="477.9" y2="265.2" stroke="#000" stroke-width="0.9"/>
<ellipse cx="440.3" cy="239.5" rx="6.1" ry="11.5" fill="#353535" transform="rotate(0 440.3 239.5)"/>
<path d="M440.8 234.7h1M445.5 235.0h1M437.9 240.1h1M438.0 239.8h1M437.7 230.8h1M431.6 231.6h1M445.0 242.2h1M440.3 236.6h1M439.3 241.3h1M435.1 234.6h1M436.8 247.2h1M436.2 246.7h1M438.2 256.2h1M439.5 239.7h1M444.4 244.9h1M443.0 232.9h1M443.7 249.8h1M439.5 236.5h1M436.1 245.7h1M440.8 239.5h1M435.6 249.4h1M442.8 239.4h1M444.8 233.7h1M442.8 233.4h1M444.6 237.8h1M444.0 236.9h1M441.2 246.5h1M436.7 240.1h1M436.9 244.7h1M437.7 237.2h1M439.1 246.6h1M436.2 239.3h1M438.7 236.1h1M437.1 238.5h1M440.5 230.0h1M440.6 232.2h1M439.9 253.5h1M436.5 239.1h1M438.9 245.5h1M438.2 228.5h1M434.3 240.6h1M440.7 246.0h1M438.0 243.6h1M436.2 247.4h1M439.6 235.3h1M440.4 250.2h1M436.9 231.9h1M436.3 232.4h1M439.6 241.7h1M439.2 240.7h1M443.8 237.7h1M435.5 225.5h1M440.6 235.3h1M439.0 242.0h1M441.4 229.9h1M436.5 240.0h1M439.3 246.5h1M438.1 226.8h1M443.8 229.5h1M436.5 241.9h1M436.2 254.8h1M440.6 242.8h1M438.3 253.1h1M441.6 235.1h1M444.1 229.1h1M437.8 241.3h1M440.3 233.6h1M445.2 248.5h1M436.6 241.8h1M437.6 236.8h1M443.2 240.3h1M439.4 240.1h1M435.8 247.0h1M437.2 247.5h1M438.2 236.7h1M444.9 240.7h1M437.6 236.2h1M441.9 251.0h1M441.9 237.1h1M436.0 235.4h1M439.4 241.0h1M437.6 247.4h1M436.5 235.1h1M441.5 242.5h1M438.5 245.4h1M435.0 249.5h1M447.3 251.5h1M440.2 251.6h1M440.0 247.7h1M439.1 240.7h1M441.6 228.8h1M439.1 250.0h1M429.8 241.9h1M442.9 241.5h1M440.5 248.0h1M440.9 227.9h1M436.6 237.7h1M440.3 236.8h1M439.4 249.7h1M429.8 246.6h1M443.0 243.2h1M439.9 239.9h1M441.0 241.0h1M437.3 244.3h1M437.0 239.3h1M438.6 232.4h1M441.9 239.1h1M435.8 239.0h1M435.1 248.3h1M441.6 251.7h1M437.9 243.8h1M436.5 234.3h1M439.5 242.0h1M442.9 237.9h1M443.6 245.4h1M436.8 238.4h1M436.7 249.9h1M437.9 244.9h1M442.9 237.9h1M438.1 241.6h1M437.2 231.8h1M436.5 241.6h1M440.5 250.3h1M433.6 242.6h1M435.9 246.6h1M442.2 240.3h1M444.8 237.2h1M438.0 233.1h1M437.6 240.2h1M442.1 247.3h1M438.9 235.0h1M438.7 236.9h1M438.2 237.0h1M436.8 239.2h1M438.1 238.5h1M435.1 240.4h1M441.7 243.4h1M437.9 232.5h1M435.4 232.4h1M437.6 237.6h1M433.8 243.6h1M434.6 235.3h1M437.4 244.5h1M446.0 237.3h1M438.9 237.1h1M439.1 238.5h1M448.1 232.9h1M439.4 234.7h1M441.0 236.3h1M441.7 232.9h1M446.9 240.8h1M433.8 243.8h1M438.2 232.5h1M441.3 236.4h1M442.3 236.2h1M442.8 240.4h1M441.0 240.5h1M438.6 237.3h1M441.3 243.8h1M438.4 253.1h1M445.5 232.6h1M443.5 239.1h1M440.6 234.7h1M445.4 234.5h1M439.5 235.1h1M446.3 247.1h1M435.4 236.8h1M441.0 236.9h1M438.6 233.0h1M440.6 232.9h1M442.6 254.0h1M438.7 249.4h1M441.1 235.5h1M438.6 233.7h1M440.2 243.7h1M442.9 237.8h1M435.8 239.1h1M445.4 241.2h1M439.6 227.0h1M438.3 242.8h1M436.6 247.7h1M437.9 234.3h1M437.9 239.0h1M443.2 236.1h1M433.8 239.0h1M441.6 248.8h1M436.0 248.4h1M442.1 242.3h1M437.2 234.2h1M436.6 245.1h1M440.5 245.9h1M445.9 239.6h1M439.6 251.1h1M435.4 236.8h1M438.6 237.2h1M440.3 234.5h1M443.7 231.3h1M437.1 229.4h1M435.1 243.1h1M441.9 238.3h1M442.6 243.2h1M437.9 239.3h1M441.0 251.6h1M438.3 241.8h1M441.6 246.9h1M441.2 246.0h1M436.2 237.9h1M433.3 239.2h1M447.6 241.0h1M440.1 241.1h1M440.3 231.6h1M437.5 238.5h1M440.4 234.4h1M439.4 235.1h1M435.4 235.6h1M437.1 244.6h1M444.3 243.0h1M439.1 236.2h1M434.5 236.4h1M445.0 246.5h1M440.6 238.1h1M439.8 242.1h1M439.8 242.1h1M437.2 239.8h1M438.6 246.0h1M435.6 247.3h1M439.5 236.5h1M439.9 240.3h1M439.0 242.1h1M437.9 229.4h1M442.1 239.4h1M445.4 241.9h1M433.1 247.0h1M437.5 242.8h1M447.2 246.1h1M436.1 239.0h1M434.4 243.5h1M441.7 233.4h1M441.3 245.1h1M442.5 235.5h1M437.5 232.8h1M435.5 241.4h1M439.9 247.3h1M440.7 237.6h1M435.0 248.8h1M440.4 239.4h1M436.4 233.3h1M441.9 233.7h1M441.8 243.3h1M438.5 229.9h1M441.2 247.9h1M437.0 232.0h1M443.4 240.4h1M437.7 246.9h1M438.9 242.2h1M438.5 235.1h1M440.5 234.4h1M433.9 236.3h1M443.9 246.1h1M447.1 245.5h1M445.2 241.0h1M438.3 242.3h1M436.6 243.9h1M438.3 241.1h1M436.9 238.8h1M443.1 238.3h1M437.5 241.2h1M442.7 238.4h1M435.9 230.3h1M435.3 245.9h1M439.5 242.4h1M443.4 241.3h1M441.4 236.6h1M434.4 243.3h1M439.5 243.0h1M436.2 238.7h1M446.5 234.6h1M440.1 247.4h1M439.0 240.3h1M432.7 244.2h1M438.3 247.2h1M439.5 237.4h1M441.3 238.1h1M438.1 248.7h1M443.1 240.2h1M442.5 244.5h1M441.7 239.8h1M440.0 242.0h1M441.7 241.7h1M438.0 239.1h1M441.3 233.8h1M439.8 244.1h1M440.4 237.9h1M439.7 236.7h1M443.1 237.4h1M434.2 232.5h1M440.8 240.8h1M438.2 231.8h1M439.3 234.6h1M437.6 239.6h1M437.2 241.4h1M437.3 236.8h1M439.0 248.2h1M445.1 245.1h1M437.3 239.6h1M442.9 244.3h1M434.4 239.3h1M437.3 244.0h1M441.9 236.4h1M446.9 238.0h1M448.0 238.6h1M439.5 250.7h1M438.0 236.8h1M444.7 239.4h1M441.4 232.2h1M445.8 245.4h1M441.0 243.7h1M438.1 236.8h1M434.6 241.8h1M443.9 244.6h1M442.9 243.8h1M436.7 231.9h1M441.9 240.6h1M443.1 238.0h1M436.9 242.2h1M437.9 230.0h1M437.8 234.5h1M436.1 236.4h1M443.0 253.4h1M445.6 237.2h1M443.6 239.2h1M441.1 235.6h1M439.6 229.8h1M445.8 235.1h1M441.8 236.2h1M440.7 232.7h1M438.5 244.9h1M441.8 228.2h1M442.6 231.9h1M440.8 242.6h1M437.7 237.7h1M439.0 241.9h1M442.9 247.6h1M440.9 251.2h1M436.6 250.0h1M438.9 244.1h1M439.4 240.1h1M436.7 241.9h1M446.6 240.5h1M439.7 239.6h1M442.2 238.4h1M439.8 240.9h1M444.1 245.2h1M436.3 235.9h1M439.9 244.5h1M443.0 238.4h1M446.9 238.7h1M444.5 247.9h1M445.1 240.8h1M441.7 230.7h1M433.9 236.0h1M442.2 245.8h1M439.5 245.7h1M441.7 248.5h1M434.5 234.8h1M436.6 233.5h1M445.3 234.2h1M437.0 237.3h1M442.8 236.9h1M442.3 242.8h1M437.7 225.8h1M436.7 232.3h1M445.3 235.4h1M436.2 241.8h1M440.0 234.1h1M443.5 244.9h1M440.7 235.2h1M436.9 227.6h1M441.1 241.9h1M436.7 239.7h1M450.7 233.0h1M434.1 243.1h1M438.4 236.7h1M441.9 238.8h1M443.1 242.6h1M443.7 240.3h1M432.6 247.5h1M434.1 245.7h1M440.6 231.5h1M440.0 244.7h1M436.4 239.8h1M437.3 233.7h1M437.7 247.0h1M442.1 239.4h1M439.5 240.3h1M440.8 240.7h1M434.1 244.9h1M436.9 224.4h1M442.2 232.5h1M439.3 239.0h1M437.8 242.7h1M438.9 237.9h1M436.6 237.9h1M436.3 239.8h1M444.2 245.5h1M441.2 231.6h1M443.2 245.0h1M446.7 226.4h1M439.9 237.6h1M443.4 233.2h1M438.5 253.1h1M443.1 227.9h1M439.9 247.5h1M437.7 243.0h1M440.1 231.0h1M437.7 246.2h1M443.8 236.0h1M443.6 235.4h1M440.6 239.4h1M435.6 241.4h1M438.5 223.5h1M437.0 234.6h1M437.0 233.8h1M437.5 225.2h1M442.8 240.0h1M440.7 238.0h1M440.0 238.0h1M436.1 230.7h1M440.0 245.5h1M440.6 249.0h1M435.2 238.0h1M437.7 246.8h1M445.5 236.5h1M442.3 238.1h1M436.5 238.9h1M436.3 248.6h1M441.8 246.5h1M441.0 225.3h1M442.5 240.1h1M431.8 240.1h1M443.2 249.6h1M436.4 244.2h1M440.9 238.5h1M438.8 242.6h1M441.7 243.4h1M438.4 231.8h1M444.2 247.1h1M437.9 239.3h1M442.5 229.2h1M441.5 253.7h1M440.7 235.4h1M446.7 239.6h1M440.5 237.0h1M440.4 229.0h1M435.5 230.9h1M442.8 239.0h1M443.7 227.6h1M437.8 248.1h1M437.1 228.6h1M437.3 237.5h1M439.8 247.2h1M444.3 248.6h1M441.7 236.6h1M438.1 230.8h1M444.1 246.9h1M440.1 234.3h1M442.1 242.4h1M440.3 232.7h1M440.6 236.2h1M442.3 243.0h1M441.3 237.0h1M444.9 244.1h1M444.1 244.4h1M442.0 241.8h1M436.2 228.8h1M436.7 243.1h1M442.9 240.6h1M440.1 250.3h1M438.5 229.0h1M434.6 237.6h1M442.1 243.8h1M439.1 244.3h1M439.6 235.2h1M438.5 243.9h1M443.0 232.9h1M436.5 240.2h1M446.9 232.6h1M435.6 242.0h1M441.5 235.9h1M439.7 242.4h1M434.0 239.4h1M441.8 244.9h1M443.7 239.1h1M435.0 247.4h1M442.4 235.8h1M443.3 245.6h1M439.3 225.6h1M438.2 235.1h1M437.0 239.0h1M436.2 241.8h1M446.1 232.5h1M443.3 236.4h1M441.6 238.8h1M444.1 235.3h1M442.3 234.9h1M440.6 239.4h1M443.4 230.2h1M435.3 247.7h1M441.1 249.5h1M436.4 240.7h1M441.8 249.9h1M439.6 236.9h1M442.2 238.9h1M437.3 244.0h1M433.4 233.5h1M444.3 236.6h1M438.7 241.7h1M443.5 242.6h1M436.6 236.2h1M443.3 238.8h1M437.7 244.6h1M443.6 252.3h1M436.2 235.3h1M437.5 241.6h1M438.2 246.1h1M430.8 245.2h1M437.7 237.9h1M441.7 240.7h1M436.4 248.3h1M441.7 236.6h1M440.5 233.0h1M435.7 237.7h1M441.0 240.1h1M437.2 231.4h1M434.2 248.9h1M441.0 234.8h1M443.8 242.7h1M438.4 235.9h1M443.6 241.4h1M445.2 241.6h1M437.9 236.0h1M437.5 241.0h1M440.6 243.1h1M441.3 233.3h1M439.1 234.0h1M441.4 231.8h1M437.9 234.5h1M437.7 238.0h1M444.8 238.0h1M435.0 237.7h1M442.3 242.8h1M440.6 251.2h1M443.5 240.0h1M443.8 231.6h1M439.2 234.4h1M440.4 249.0h1M438.2 248.9h1M436.4 247.9h1M434.2 234.5h1M443.1 239.0h1M440.3 239.4h1M440.4 238.4h1M436.6 237.8h1M440.2 234.2h1M441.3 249.9h1M434.4 236.3h1M438.9 239.6h1M440.1 235.2h1M439.7 239.5h1M439.5 248.6h1M440.2 230.8h1M434.6 243.0h1M438.7 235.9h1M435.3 237.7h1M439.5 235.5h1M438.6 244.7h1M442.4 242.7h1M439.2 231.5h1M442.4 248.3h1M444.0 246.4h1M440.7 241.7h1M439.8 246.9h1M438.9 252.1h1M442.4 237.6h1M439.8 230.0h1M437.4 237.7h1M447.9 234.7h1M442.8 240.0h1M438.8 243.2h1M433.2 245.1h1M446.2 241.2h1M439.6 240.4h1M442.0 236.6h1M440.2 242.5h1M438.6 241.8h1M440.9 243.7h1M436.5 236.3h1M438.4 246.6h1M440.6 229.8h1M435.6 250.9h1M440.9 231.9h1M436.8 240.3h1M444.5 249.0h1M438.6 237.7h1M446.2 233.7h1M445.0 241.5h1M440.1 247.1h1M441.4 234.6h1M434.8 239.6h1M441.5 247.6h1M431.2 247.4h1M441.9 248.4h1M442.4 240.8h1M441.2 241.8h1M437.7 238.8h1M440.2 236.8h1M435.0 231.0h1M441.5 242.6h1M440.2 232.6h1M442.6 237.2h1M432.9 248.7h1M434.9 252.8h1M441.6 236.9h1M432.0 235.4h1M444.7 247.5h1M440.7 229.4h1M438.5 237.8h1M441.3 238.8h1M440.9 229.9h1M437.7 248.0h1M435.0 244.9h1M447.4 243.3h1M435.2 246.8h1M433.7 241.5h1M438.4 246.8h1M443.7 240.6h1M445.7 245.3h1M438.2 233.7h1M447.9 237.1h1M441.2 238.8h1M438.2 230.0h1M439.3 238.8h1M443.1 236.5h1M434.6 233.2h1M439.7 241.0h1M442.2 237.2h1M441.6 240.4h1M445.4 239.2h1M440.3 242.8h1M443.8 234.1h1M438.2 237.9h1M432.7 247.2h1M443.4 239.6h1M450.9 247.0h1M446.5 248.8h1M442.8 231.1h1M444.9 242.0h1M435.8 239.8h1M442.3 245.3h1M440.4 236.4h1M442.3 235.0h1M439.5 244.0h1M435.0 241.7h1M433.3 234.0h1M435.7 239.0h1M442.2 239.2h1M442.8 240.1h1M439.1 242.4h1M439.0 240.3h1M443.2 236.1h1M443.6 233.0h1M439.1 229.2h1M438.0 248.9h1M441.0 247.0h1M434.9 233.5h1M441.3 244.4h1M442.6 229.6h1M441.5 239.1h1M440.2 242.3h1M438.9 229.5h1M436.3 230.9h1M435.4 238.7h1M444.1 235.3h1M437.3 232.7h1M434.1 239.9h1M438.2 238.1h1M436.6 242.4h1M435.8 242.8h1M437.6 244.2h1M436.9 242.1h1M441.3 239.0h1M445.2 240.5h1M436.9 243.6h1M437.1 236.3h1M439.8 240.6h1M445.5 229.2h1M438.9 246.2h1M439.3 241.4h1M444.9 232.2h1M439.9 244.2h1M437.9 229.1h1M436.5 240.7h1M440.4 250.4h1M444.2 230.3h1M443.2 244.9h1M445.2 238.6h1M438.0 240.4h1M444.9 243.2h1M445.4 244.2h1M437.8 233.5h1M446.0 230.5h1M438.6 237.6h1M436.8 236.1h1M439.8 253.6h1M439.6 236.4h1M440.2 245.1h1M437.1 237.1h1M434.0 243.7h1M442.1 248.4h1M435.8 252.4h1M442.7 237.9h1M438.5 237.7h1M435.8 244.1h1M437.8 235.2h1M441.5 240.2h1M437.9 238.1h1M438.2 247.5h1M443.1 235.2h1M439.7 247.6h1M438.8 250.1h1M441.3 243.5h1M432.9 244.5h1M440.9 243.0h1M441.4 242.6h1M438.1 244.8h1M440.0 233.3h1M436.4 240.5h1M440.9 226.4h1M432.9 245.7h1M439.8 256.4h1M434.7 238.0h1M437.8 242.8h1M444.5 249.1h1M436.4 246.8h1M435.8 241.3h1M440.4 243.2h1M437.1 247.5h1M439.6 239.4h1M438.9 233.2h1M442.2 241.5h1M441.3 250.6h1M436.9 237.8h1M439.8 244.6h1M439.2 245.1h1M441.3 229.0h1M437.5 227.4h1M438.8 237.0h1M441.8 240.5h1M439.6 247.0h1M441.8 232.2h1M437.5 241.5h1M445.5 238.3h1M439.2 241.1h1M442.4 239.0h1M440.8 237.0h1M438.0 234.8h1M442.0 236.2h1M441.6 241.9h1M443.0 223.5h1M436.6 232.2h1M439.3 244.3h1M448.2 248.7h1M444.3 241.8h1M438.5 242.7h1M432.6 245.0h1M439.8 243.2h1M436.4 233.0h1M437.7 239.2h1M441.0 237.4h1M441.0 243.6h1M435.9 238.9h1M434.6 236.2h1M442.8 235.2h1M446.0 242.5h1M442.8 240.1h1M442.7 246.0h1M440.2 236.3h1M438.0 251.0h1M439.2 236.8h1M437.4 229.5h1M438.1 241.4h1M438.2 235.0h1M441.2 242.2h1M438.3 241.3h1M436.6 244.6h1M436.5 237.5h1M440.3 237.0h1M436.0 252.0h1M444.9 229.1h1M440.2 231.9h1M440.8 231.7h1M441.7 242.7h1M445.5 246.7h1M438.3 245.1h1M438.3 238.8h1M438.1 229.0h1M441.8 227.4h1M439.0 242.6h1M440.2 230.1h1M437.6 243.6h1M443.5 249.0h1M433.8 242.2h1M438.2 244.1h1M434.2 238.7h1M442.2 235.7h1M438.6 233.7h1M443.5 231.6h1M436.8 237.5h1M438.7 252.1h1M440.7 234.5h1M441.7 241.6h1M440.7 239.1h1M441.3 232.5h1M435.8 237.0h1M436.1 243.7h1M446.3 246.9h1M441.3 241.5h1M437.5 231.7h1M441.6 230.7h1M440.8 238.7h1M442.3 239.8h1M440.2 236.0h1M434.1 237.4h1M442.1 245.7h1M444.4 233.6h1M436.7 243.7h1M438.3 254.9h1M440.8 230.4h1M438.0 248.9h1M433.7 240.4h1M435.2 249.1h1M438.3 233.3h1M434.1 235.2h1M431.3 236.7h1M447.1 240.1h1M438.9 232.6h1M440.9 236.7h1M437.0 247.8h1M441.3 234.2h1M444.7 239.2h1M441.5 240.4h1M443.7 243.2h1M438.6 243.8h1M438.5 240.3h1M445.3 233.2h1M436.4 237.1h1M438.1 247.3h1M434.5 253.2h1M445.1 236.8h1M440.4 237.3h1M442.0 243.5h1M442.3 244.1h1M446.2 238.5h1M442.1 238.4h1M439.9 240.8h1M439.6 241.6h1M437.0 238.6h1M437.8 232.5h1M437.4 236.5h1M439.3 230.2h1M438.9 232.7h1M437.1 240.6h1M443.5 241.2h1M438.2 236.9h1M444.3 229.8h1M443.6 230.5h1M437.7 239.8h1M439.1 249.4h1M441.4 239.2h1M443.0 239.7h1M437.1 246.2h1M444.8 247.2h1M435.9 250.9h1M438.4 244.1h1M443.8 253.7h1M434.4 233.4h1M443.7 242.5h1M438.8 222.0h1M441.3 238.4h1M431.1 255.5h1M431.5 236.2h1M439.8 240.9h1M442.3 237.9h1M436.8 237.3h1M432.8 232.8h1M446.4 235.4h1M439.5 250.9h1M443.3 240.2h1M442.3 237.9h1M436.8 245.5h1M440.2 249.1h1M438.9 237.3h1M441.0 238.4h1M438.8 234.1h1M440.7 241.4h1M445.9 239.3h1M433.9 242.3h1M447.4 236.9h1M437.1 238.5h1M430.2 237.5h1M439.2 230.4h1M441.7 234.2h1M433.6 235.2h1M441.9 251.0h1M444.0 240.7h1M438.1 237.9h1M443.0 236.4h1M441.2 245.3h1M436.8 236.0h1M441.3 239.5h1M439.4 236.3h1M439.6 250.6h1M444.3 229.8h1M440.0 240.1h1M439.9 231.2h1M439.4 240.4h1M437.5 241.4h1M431.6 230.5h1M440.1 241.8h1M439.2 236.7h1M440.4 246.0h1M442.8 239.0h1M438.2 245.9h1M441.6 244.8h1M438.9 234.3h1M440.4 235.7h1M443.6 244.6h1M432.5 243.5h1M444.3 245.7h1M438.2 234.3h1M443.0 245.6h1M440.0 232.6h1M434.7 241.1h1M437.0 235.4h1M441.3 245.8h1M432.9 235.5h1M444.1 239.2h1M438.7 243.3h1M436.0 232.2h1M439.9 248.9h1M443.2 239.5h1M443.2 237.0h1M435.9 229.4h1M440.7 244.9h1M441.0 239.3h1M438.5 246.1h1M439.6 230.8h1M444.4 235.6h1M441.1 239.5h1M443.3 241.0h1M443.9 240.8h1M438.3 236.4h1M442.0 234.5h1M442.9 238.1h1M436.7 234.3h1M439.3 250.1h1M442.4 239.6h1M436.8 251.0h1M438.9 239.5h1M438.4 247.5h1M440.4 236.7h1M440.4 233.5h1M436.3 238.5h1M430.2 246.6h1M446.5 232.8h1M439.3 230.0h1M440.4 240.8h1M442.3 231.5h1M437.8 235.6h1M439.0 253.2h1M439.1 239.3h1M438.1 244.3h1M448.4 246.5h1M444.9 233.0h1M443.3 239.7h1M444.0 245.9h1M442.0 229.4h1M440.2 236.5h1M441.3 239.7h1M443.3 229.9h1M437.3 239.0h1M440.9 237.1h1M439.7 239.8h1M443.3 238.8h1M440.6 228.6h1M431.0 230.7h1M441.0 225.6h1M441.2 238.9h1M439.8 235.1h1M438.4 244.5h1M441.0 239.3h1M438.2 240.8h1M443.8 239.4h1M438.6 232.4h1M440.1 234.0h1M435.0 244.7h1M437.7 227.2h1M437.4 250.6h1M439.4 231.5h1M436.1 243.8h1M441.2 240.8h1M439.1 242.4h1M445.0 242.4h1M439.2 231.1h1M441.3 248.9h1M442.0 231.9h1M440.4 247.3h1M437.7 242.5h1M443.9 249.4h1M434.5 229.0h1M441.1 243.7h1M438.6 239.4h1M438.4 246.7h1M432.4 241.0h1M435.5 235.4h1M434.7 234.0h1M439.7 239.7h1M445.8 238.2h1M441.0 241.6h1M440.7 248.4h1M440.3 240.4h1M439.4 239.5h1M439.6 245.5h1M439.9 239.9h1M439.6 244.1h1M438.2 245.2h1M437.9 243.7h1M446.2 240.9h1M439.5 232.4h1M442.3 239.6h1M442.9 235.5h1M441.5 250.4h1M441.2 237.5h1M435.4 239.4h1M442.0 243.1h1M436.0 233.3h1M436.5 233.3h1M438.9 241.1h1M446.3 240.7h1M444.7 229.5h1M445.0 244.3h1M441.3 244.5h1M441.9 251.1h1M442.5 229.0h1M433.9 249.3h1M439.5 247.5h1M438.6 235.5h1M438.6 241.4h1M440.4 235.8h1M441.6 243.2h1M436.7 232.8h1M433.2 237.6h1M439.8 235.3h1M437.8 238.7h1M439.9 243.0h1M442.6 242.2h1M443.6 233.6h1M441.8 241.8h1M436.3 235.4h1M441.3 240.0h1M435.6 236.1h1M444.9 244.6h1M440.1 247.7h1M436.7 238.5h1M443.0 237.5h1M436.0 243.1h1M445.2 224.1h1M440.3 231.9h1M438.8 230.9h1M448.6 235.4h1M439.9 235.2h1M436.5 236.7h1M440.5 250.1h1M440.8 249.0h1M436.2 239.9h1M438.3 230.0h1M452.4 238.0h1M440.6 234.9h1M437.9 233.2h1M443.3 237.1h1M439.3 240.6h1M435.7 240.9h1M439.2 242.2h1M438.5 239.7h1M441.5 245.4h1M437.5 245.4h1M436.5 238.4h1M440.2 240.4h1M431.4 233.6h1M439.2 245.1h1M437.4 248.7h1M433.7 240.0h1M441.6 239.6h1M440.7 245.2h1M437.1 243.1h1M443.4 238.1h1M432.0 232.3h1M436.9 233.1h1M441.3 234.6h1M448.2 243.0h1M435.4 237.8h1M444.9 243.6h1M436.4 245.8h1M438.2 252.9h1M437.9 243.1h1M441.7 236.8h1M439.3 246.5h1M441.5 239.1h1M441.3 250.1h1M442.9 242.4h1M440.9 230.0h1M440.3 236.5h1M442.3 235.8h1M441.3 233.1h1M442.8 235.1h1M439.7 243.0h1M438.7 239.5h1M443.4 250.2h1M433.7 234.0h1M442.1 245.2h1M438.2 240.1h1M439.2 253.3h1M439.1 232.3h1M434.6 231.8h1M444.2 237.1h1M446.4 243.4h1M441.1 243.4h1M442.5 245.1h1M436.5 236.1h1M438.0 240.1h1M439.0 232.0h1M437.5 250.3h1M446.9 234.3h1M441.1 239.3h1M436.9 243.8h1M439.6 249.6h1M441.3 237.6h1M430.9 238.9h1M442.7 235.2h1M442.8 243.6h1M433.9 238.3h1M440.9 244.1h1M440.3 239.4h1M438.6 237.7h1M439.8 233.1h1M442.0 237.5h1M441.6 236.4h1M441.2 240.3h1M442.8 242.3h1M442.9 238.5h1M439.6 237.9h1M435.6 238.7h1M443.5 244.2h1M436.9 241.3h1M442.3 231.3h1M441.0 241.5h1M442.3 241.1h1M433.9 227.3h1M446.5 237.1h1M444.1 247.2h1M440.1 232.6h1M444.4 239.3h1M441.6 242.4h1M443.0 245.6h1M435.0 231.0h1M440.3 239.6h1M442.4 238.7h1M439.2 251.8h1M444.4 246.5h1M443.3 234.7h1M439.5 239.1h1M436.1 234.2h1M440.3 232.2h1M441.6 242.4h1M439.0 237.5h1M441.8 242.4h1M441.0 232.1h1M434.3 251.9h1M437.6 237.3h1M433.7 234.7h1M437.3 244.3h1M430.9 231.0h1M438.4 236.5h1M437.2 236.8h1M434.5 241.1h1M443.8 240.4h1M438.0 247.1h1M441.4 233.3h1M437.9 235.8h1M439.6 246.8h1M437.4 238.6h1M440.2 232.3h1M438.2 243.2h1M443.6 228.2h1M442.2 237.7h1M444.1 243.3h1M446.4 241.4h1M438.5 234.5h1M435.0 242.8h1M441.5 244.4h1M441.0 230.5h1M438.4 238.0h1M440.3 244.1h1M444.6 241.2h1M432.9 233.3h1M432.6 234.9h1M435.8 240.9h1M439.1 246.2h1M443.4 236.8h1M443.0 239.6h1M441.3 247.6h1M435.9 239.1h1M445.0 234.9h1M440.5 240.3h1M438.4 231.6h1M437.5 233.6h1M443.4 241.0h1M442.2 232.3h1M441.5 240.4h1M443.3 235.2h1M442.5 247.8h1M445.9 233.9h1M436.0 230.7h1M443.0 243.1h1M441.0 234.3h1M444.0 249.2h1M439.7 238.8h1M443.8 242.5h1M444.3 237.1h1M440.9 237.5h1M437.9 237.7h1M438.8 242.5h1M438.8 239.9h1M437.1 232.1h1M444.6 233.6h1M445.9 245.2h1M432.1 235.7h1M438.4 239.6h1M439.2 235.9h1M444.0 238.7h1M443.0 235.4h1M437.5 247.5h1M438.9 232.9h1M439.2 245.8h1M439.3 235.2h1M441.9 245.4h1M439.1 237.6h1M438.6 255.7h1M439.2 250.0h1M439.3 241.9h1M432.9 240.6h1M440.0 237.6h1M438.4 231.3h1M434.8 240.5h1M437.7 239.0h1M439.2 236.5h1M437.4 250.6h1M436.1 236.4h1M438.8 232.6h1M436.6 244.7h1M442.9 240.3h1M450.7 244.5h1M444.0 234.6h1M443.5 249.6h1M438.5 250.4h1M437.1 232.7h1M439.7 234.7h1M442.0 232.9h1M440.1 227.8h1M439.7 245.8h1M438.9 241.4h1M443.5 232.9h1M435.5 240.0h1M440.7 237.9h1M436.5 246.8h1M435.9 237.9h1M439.7 243.9h1M438.3 234.6h1M446.6 234.4h1M442.5 238.6h1M438.2 239.2h1M438.9 241.4h1M431.2 239.3h1M440.1 233.7h1M438.5 253.5h1M446.0 243.4h1M440.6 237.7h1M444.5 236.8h1M437.1 243.6h1M436.6 234.8h1M444.7 229.9h1M439.6 240.2h1M440.7 230.8h1M439.0 237.5h1M446.3 245.5h1M437.3 244.7h1M442.0 238.8h1M439.0 237.9h1M434.6 235.7h1M443.0 248.2h1M446.1 237.3h1M441.9 225.1h1M438.9 231.9h1M442.6 229.6h1M436.3 232.9h1M441.1 244.5h1M436.7 250.3h1M440.4 234.5h1M441.0 239.4h1M442.6 241.6h1M447.2 246.5h1M437.7 244.2h1M442.4 233.5h1M437.3 234.7h1M431.5 243.3h1M439.1 246.9h1M437.9 240.0h1M442.3 245.3h1M440.9 233.3h1M447.2 244.7h1M444.4 249.2h1M444.5 242.0h1M441.4 243.3h1M434.8 244.4h1M436.5 242.0h1M436.4 243.8h1M438.2 254.4h1M440.5 242.5h1M436.8 237.8h1M439.6 237.8h1M438.4 234.3h1M442.4 237.2h1M437.1 241.7h1M437.1 238.5h1M438.1 234.0h1M439.1 234.6h1M435.6 241.6h1M438.8 230.8h1M438.5 240.6h1M441.3 241.7h1M440.7 243.1h1M438.2 234.7h1M441.9 237.1h1M439.9 243.4h1M443.0 246.8h1M437.5 237.3h1M441.7 230.9h1M435.6 243.1h1M437.8 234.0h1M442.5 242.7h1M442.9 237.5h1M438.9 237.5h1M440.8 227.4h1M437.5 243.7h1M437.2 239.1h1M440.2 242.6h1M438.2 232.7h1M448.2 235.2h1M445.6 229.0h1M440.2 238.3h1M446.2 251.7h1M443.1 233.5h1M437.1 235.0h1M438.1 241.1h1M437.2 238.0h1M444.8 248.1h1M433.6 233.8h1M438.6 247.2h1M438.7 250.9h1M441.1 248.1h1M437.0 237.7h1M443.2 242.9h1M433.6 237.9h1M440.4 243.3h1M437.7 249.9h1M440.3 248.1h1M441.2 240.0h1M438.8 232.6h1M442.7 244.0h1M443.0 237.3h1M436.5 237.3h1M438.8 239.4h1M443.1 234.1h1M438.2 243.6h1M442.9 252.7h1M441.6 234.5h1M436.4 234.8h1M440.1 241.0h1M439.6 235.9h1M439.2 239.0h1M441.8 240.0h1M437.1 232.6h1M444.8 239.0h1M439.3 239.4h1M443.6 237.6h1M440.4 238.1h1M441.8 233.5h1M440.5 245.6h1M443.8 243.2h1M440.8 248.9h1M442.2 247.8h1M435.8 233.0h1M442.5 237.9h1M438.4 233.9h1M444.8 232.4h1M440.2 231.2h1M439.3 252.9h1M448.0 236.6h1M436.5 249.2h1M437.0 228.9h1M441.0 233.1h1M435.0 246.2h1M437.4 233.2h1M440.4 238.4h1M443.6 240.1h1M445.2 246.3h1M445.8 246.2h1M440.1 242.8h1M439.9 230.3h1M435.9 243.9h1M432.0 234.6h1M435.6 239.1h1M436.4 241.0h1M439.2 236.7h1M437.0 226.3h1M440.1 231.8h1M438.9 241.7h1M443.3 243.7h1M444.8 231.1h1M442.1 248.8h1M441.2 232.9h1M441.2 236.4h1M437.7 245.8h1M439.3 232.9h1M437.6 251.2h1M437.0 243.5h1M440.4 246.5h1M438.9 233.9h1M437.7 233.4h1M448.5 240.7h1M438.8 247.0h1M442.0 238.4h1M441.9 241.1h1M443.6 249.3h1M438.8 239.3h1M439.2 246.8h1M441.1 244.2h1M442.9 235.7h1M440.3 247.7h1M442.9 244.3h1M438.9 237.4h1M437.0 237.9h1M439.6 231.0h1M443.7 235.0h1M440.7 243.1h1M438.0 228.8h1M443.1 241.9h1M439.0 246.2h1M442.8 233.9h1M439.6 229.1h1M439.0 247.9h1M437.1 244.4h1M434.8 237.8h1M443.0 249.7h1M441.4 244.0h1M445.6 225.0h1M434.2 250.7h1M448.1 243.1h1M440.1 241.1h1M440.0 235.9h1M439.8 238.8h1M442.1 243.6h1M443.1 243.0h1M436.6 247.8h1M431.0 240.2h1M441.0 236.4h1M446.1 233.0h1M436.0 236.5h1M441.2 244.2h1M440.2 243.5h1M437.5 235.9h1M440.3 231.5h1M440.5 237.2h1M442.1 233.5h1M438.1 236.2h1M438.6 233.6h1M439.0 231.5h1M441.6 243.5h1M439.8 238.4h1M436.9 233.8h1M439.1 234.2h1M436.0 240.5h1M439.8 237.1h1M437.2 239.2h1M437.6 237.0h1M440.5 243.8h1M442.4 235.9h1M443.9 232.7h1M439.3 247.2h1M447.7 240.3h1M438.7 237.3h1M435.8 238.6h1M438.5 235.0h1M443.8 234.9h1M445.5 244.5h1M442.0 236.0h1M438.2 227.7h1M440.8 237.9h1M441.1 235.5h1M441.5 230.6h1M432.6 242.3h1M443.4 220.9h1M444.1 237.4h1M439.3 230.4h1M436.6 243.7h1M437.4 239.3h1M439.3 251.3h1M442.8 231.7h1M438.3 232.7h1M435.3 235.5h1M443.5 239.8h1M442.1 238.7h1M438.5 240.0h1M439.6 250.9h1M445.8 241.7h1M441.8 227.7h1M439.4 253.7h1M437.2 244.3h1M443.9 237.2h1M439.1 236.8h1M442.5 239.6h1M444.8 246.6h1M439.8 254.9h1M438.8 235.9h1M439.1 234.3h1M438.5 239.1h1M442.8 230.1h1M435.2 234.9h1M438.8 242.2h1M437.3 248.5h1M438.1 238.2h1M440.0 246.5h1M440.8 239.7h1M438.1 240.5h1M441.2 237.4h1M439.8 228.6h1M438.1 246.5h1M444.5 239.1h1M432.7 250.4h1M439.3 254.8h1M438.5 245.5h1M437.8 247.7h1M443.7 233.2h1M444.1 256.5h1M439.1 232.3h1M440.8 237.1h1M434.9 233.3h1M440.6 230.5h1M443.4 242.2h1M439.3 247.8h1M436.8 243.6h1M435.4 237.6h1M441.9 236.3h1M439.5 243.4h1M444.8 247.3h1M441.3 238.0h1M435.1 249.7h1M446.0 226.7h1M442.7 239.3h1M442.2 241.4h1M439.2 239.5h1M439.7 246.4h1M439.0 236.3h1M442.0 243.3h1M441.3 241.2h1M444.7 246.1h1M440.5 238.3h1M442.0 228.4h1M438.1 235.3h1M440.4 237.2h1M447.9 243.9h1M441.2 252.9h1M439.8 237.6h1M443.9 244.4h1M442.9 246.7h1M438.6 235.6h1M437.5 240.1h1M443.1 233.2h1M438.1 231.5h1M446.4 244.3h1M440.6 232.2h1M436.5 235.7h1M439.9 231.9h1M439.1 246.8h1M439.9 240.1h1M433.0 237.9h1M439.4 235.4h1M435.3 239.1h1M436.5 236.2h1M434.6 238.9h1M442.8 234.5h1M440.9 230.4h1M441.7 242.7h1M438.6 244.8h1M437.0 239.8h1M445.3 239.4h1M436.2 246.4h1M441.6 237.8h1M433.9 228.3h1M434.9 248.4h1M440.8 234.4h1M443.6 248.3h1M437.1 242.4h1M434.4 241.7h1M445.8 231.1h1M440.0 235.7h1M439.5 240.0h1M440.7 244.8h1M441.5 245.8h1M443.2 246.1h1M437.6 242.0h1M438.6 234.5h1M446.2 241.3h1M440.0 226.9h1M439.1 244.1h1M439.2 236.2h1M444.7 237.6h1M438.7 238.9h1M439.1 245.8h1M441.7 239.1h1M438.6 238.2h1M445.4 237.7h1M442.0 230.1h1M440.9 243.6h1M444.0 241.4h1M441.7 241.4h1M443.3 251.8h1M440.5 234.6h1M441.8 238.8h1M441.9 244.1h1M440.3 236.9h1M440.8 232.0h1M440.7 234.2h1M441.3 240.2h1M439.1 232.3h1M440.0 235.4h1M439.4 243.7h1M442.9 231.8h1M442.9 247.7h1M443.5 241.2h1M439.5 249.9h1M438.8 230.4h1M440.1 241.2h1M436.5 232.2h1M446.3 240.2h1M442.4 236.0h1M434.9 238.4h1M444.2 235.5h1M434.0 238.5h1M438.9 239.6h1M436.4 237.6h1M438.1 244.8h1M440.3 244.7h1M439.7 226.7h1M433.5 242.7h1M442.7 244.7h1M439.6 228.8h1M438.2 241.9h1M444.3 237.4h1M438.0 234.9h1M443.2 244.7h1M433.9 246.8h1M436.8 230.7h1M434.6 235.1h1M447.4 254.8h1M435.8 235.5h1M440.4 242.0h1M438.3 230.0h1M438.5 235.4h1M434.0 240.4h1M435.1 229.1h1M444.8 245.1h1M444.6 240.2h1M438.5 239.0h1M435.4 243.9h1M440.7 237.7h1M433.7 238.8h1M445.1 248.2h1M442.7 237.4h1M440.3 242.8h1M440.5 245.8h1M437.7 225.6h1M431.9 234.0h1M435.3 243.5h1M443.4 239.5h1M441.6 240.0h1M440.4 236.7h1M438.5 246.6h1M439.0 239.3h1M443.7 245.4h1M438.6 241.0h1M436.5 240.3h1M440.9 239.5h1M440.4 241.7h1M431.6 234.6h1M440.1 236.6h1M436.7 238.1h1M445.1 238.1h1M437.7 236.6h1M436.0 242.4h1M436.6 245.0h1M442.8 242.9h1M443.2 239.0h1M434.1 239.1h1M441.9 230.2h1M435.9 246.1h1M441.3 247.6h1M442.0 239.9h1M441.2 244.6h1M439.7 238.2h1M440.9 237.6h1M447.7 234.9h1M434.9 231.8h1M443.3 237.1h1M440.4 238.2h1M440.7 230.8h1M440.1 236.1h1M443.4 243.2h1M435.7 233.7h1M441.7 246.7h1M442.4 238.6h1M443.5 225.4h1M438.1 233.7h1M436.5 242.9h1M440.8 241.2h1M439.4 243.2h1M442.4 236.1h1M442.9 233.9h1M445.6 231.7h1M438.9 233.0h1M440.0 247.4h1M437.4 250.2h1M444.5 241.8h1M437.9 244.9h1M430.5 234.9h1M443.0 239.3h1M448.0 235.4h1M435.5 238.2h1M441.7 249.7h1M434.0 240.4h1M444.0 235.5h1M438.3 232.2h1M442.4 244.5h1M441.8 241.0h1M443.1 238.8h1M442.2 244.4h1M444.1 242.6h1M440.1 243.8h1M434.7 228.9h1M445.2 240.3h1M436.4 236.0h1M439.4 239.9h1M437.3 245.5h1M434.2 256.4h1M436.3 249.5h1M442.1 229.4h1M435.8 239.9h1M440.7 236.9h1M439.9 240.5h1M436.1 239.9h1M447.4 235.6h1M436.5 243.5h1M444.3 245.8h1M437.7 239.1h1M440.5 238.2h1M441.2 246.0h1M441.7 239.4h1M439.2 250.3h1M435.8 251.6h1M442.3 240.0h1M437.4 250.6h1M443.9 245.0h1M446.8 228.7h1M440.2 237.6h1M437.4 240.0h1M441.6 242.7h1M439.4 231.5h1M441.7 243.2h1M446.9 245.1h1M439.9 232.6h1M449.1 216.0h1M441.2 222.3h1M442.1 224.9h1M437.3 215.9h1M441.1 213.5h1M438.6 225.1h1M441.5 218.5h1M438.8 219.2h1M440.4 214.2h1M443.0 213.3h1M444.6 217.5h1M433.4 212.1h1M441.5 215.1h1M446.2 225.1h1M447.2 223.0h1M444.8 216.3h1M444.7 217.1h1M440.4 212.9h1M440.7 220.8h1M440.3 214.1h1M443.4 223.1h1M440.3 222.5h1M443.7 214.6h1M440.4 210.7h1M437.3 220.9h1M437.8 220.8h1M441.7 209.8h1M439.0 225.8h1M440.6 219.6h1M438.3 211.8h1M435.5 231.8h1M440.0 215.1h1M440.9 210.3h1M445.0 226.7h1M438.2 220.4h1M437.7 222.8h1M437.9 218.4h1M444.7 221.3h1M439.5 212.2h1M435.5 224.4h1M433.3 241.4h1M435.2 242.0h1M430.2 240.3h1M431.8 240.9h1M438.2 245.0h1M432.7 239.3h1M430.3 234.1h1M427.3 237.8h1M428.2 228.1h1M429.7 226.9h1M435.5 249.7h1M429.6 255.3h1M433.7 223.4h1M432.1 234.0h1M427.7 239.2h1M434.9 244.1h1M428.4 236.4h1M430.1 249.0h1M431.8 234.2h1M429.7 227.2h1M429.9 247.3h1M427.2 242.3h1M431.7 246.7h1M429.2 247.4h1M435.9 257.0h1M428.0 240.8h1M431.5 241.9h1M429.6 247.0h1M437.9 251.5h1M429.6 237.0h1M433.9 241.9h1M430.1 249.7h1M433.3 248.2h1M431.6 250.0h1M430.9 233.2h1M432.0 231.2h1M435.2 246.1h1M427.8 242.2h1M434.1 238.5h1M433.1 236.9h1M431.8 240.4h1M433.2 234.2h1M429.2 243.3h1M430.7 244.6h1M430.8 231.8h1M433.9 242.9h1M433.9 238.6h1M431.1 249.9h1M427.8 253.2h1M433.3 240.6h1M432.2 245.2h1M430.1 242.9h1M429.6 228.0h1M432.5 241.7h1M433.6 244.9h1M433.8 246.5h1M429.4 249.5h1M438.7 237.0h1M428.8 245.8h1M434.3 248.1h1M435.9 231.3h1M433.0 244.3h1M435.2 234.7h1M432.1 238.4h1M431.6 240.0h1M431.6 228.6h1M431.9 241.5h1M431.0 216.1h1M430.3 236.4h1M429.8 252.3h1M434.3 239.7h1M429.6 244.3h1M430.5 251.4h1M434.8 240.1h1M433.6 235.4h1M428.0 246.9h1M436.1 238.9h1M430.7 228.4h1M437.4 232.6h1M434.6 237.2h1M445.6 239.5h1M439.4 239.2h1M443.8 238.7h1M440.3 238.3h1M433.9 251.1h1M436.0 227.1h1M437.3 239.3h1M443.6 225.7h1M433.1 240.6h1M441.4 229.1h1M433.8 240.6h1M438.8 224.4h1M435.1 252.4h1M434.2 248.5h1M431.8 252.4h1M447.6 233.3h1M436.1 244.7h1M433.3 244.0h1M445.6 241.4h1M441.1 237.6h1M444.6 231.6h1M447.5 238.8h1M437.9 224.2h1M437.3 241.1h1M445.8 224.4h1M438.9 232.8h1M433.5 239.0h1M435.7 246.9h1M426.0 245.7h1M429.9 221.4h1M442.1 235.9h1M440.2 230.3h1M434.2 232.3h1M439.2 231.4h1M437.4 231.2h1M440.7 228.7h1M429.1 215.3h1M439.4 239.9h1M444.3 232.3h1M433.8 225.5h1M443.3 233.4h1M444.5 238.3h1M438.1 222.2h1M436.1 246.1h1M436.4 245.1h1M431.2 248.2h1M453.5 249.1h1M441.1 227.8h1M436.9 233.1h1M420.6 241.9h1M414.3 250.4h1M420.4 250.2h1M424.6 244.6h1M411.4 249.4h1M419.7 248.2h1M414.6 251.1h1M422.5 251.4h1M417.4 250.1h1M419.1 245.2h1" stroke="#262626" stroke-width="1.15" fill="none"/>
<line x1="427.1" y1="187.1" x2="427.1" y2="263.2" stroke="#000" stroke-width="1.1"/>
<line x1="400.6" y1="242.3" x2="477.9" y2="242.3" stroke="#000" stroke-width="1.1"/>
<circle cx="427.1" cy="242.60000000000002" r="2.1" fill="#000"/>
<text x="444.4" y="179" font-size="9.2" text-anchor="middle" font-weight="normal">+ MPO</text>
<text x="445.8" y="194" font-size="7.5" text-anchor="start" font-weight="normal">57 (%)</text>
<text x="445.8" y="203.8" font-size="7.5" text-anchor="start" font-weight="normal">32 (MFI)</text>
<text x="300.7" y="208.8" font-size="9" text-anchor="middle" font-weight="normal" transform="rotate(-90 300.7 208.8)" dominant-baseline="central">CCR7 (log)</text>
<text x="424.5" y="278.4" font-size="9" text-anchor="start" font-weight="normal">CD11c (log)</text>
<polyline points="297.9,247 297.9,274.9 413,274.9" fill="none" stroke="#888" stroke-width="1.1"/>
<polygon points="297.9,240.6 294.6,248.7 301.2,248.7" fill="#000"/>
<polygon points="421,274.9 412.1,271.9 412.1,277.9" fill="#000"/>
<line x1="72.5" y1="386.15000000000003" x2="72.5" y2="384.75" stroke="#000" stroke-width="1.7"/>
<line x1="65.395" y1="384.75" x2="79.605" y2="384.75" stroke="#000" stroke-width="1.7"/>
<rect x="60.25" y="386.15" width="24.50" height="61.05" fill="#fff" stroke="#000" stroke-width="1.7"/>
<line x1="110.25" y1="404.05" x2="110.25" y2="400.45000000000005" stroke="#000" stroke-width="1.7"/>
<line x1="103.17399999999999" y1="400.45000000000005" x2="117.32600000000001" y2="400.45000000000005" stroke="#000" stroke-width="1.7"/>
<rect x="98.05" y="404.05" width="24.40" height="43.15" fill="#6d6d6d" stroke="#000" stroke-width="1.7"/>
<line x1="53.5" y1="371.15" x2="53.5" y2="448.05" stroke="#000" stroke-width="1.7"/>
<line x1="53.5" y1="447.2" x2="130.5" y2="447.2" stroke="#000" stroke-width="1.7"/>
<line x1="47.2" y1="447.2" x2="53.5" y2="447.2" stroke="#000" stroke-width="1.7"/>
<text transform="translate(46.7 450.25) scale(1.07 1)" font-size="9.6" text-anchor="end" font-weight="normal">0</text>
<line x1="47.2" y1="422.1333333333333" x2="53.5" y2="422.1333333333333" stroke="#000" stroke-width="1.7"/>
<text transform="translate(46.7 425.18) scale(1.07 1)" font-size="9.6" text-anchor="end" font-weight="normal">5</text>
<line x1="47.2" y1="397.06666666666666" x2="53.5" y2="397.06666666666666" stroke="#000" stroke-width="1.7"/>
<text transform="translate(46.7 400.12) scale(1.07 1)" font-size="9.6" text-anchor="end" font-weight="normal">10</text>
<line x1="47.2" y1="372.0" x2="53.5" y2="372.0" stroke="#000" stroke-width="1.7"/>
<text transform="translate(46.7 375.05) scale(1.07 1)" font-size="9.6" text-anchor="end" font-weight="normal">15</text>
<text x="72.5" y="462" font-size="10" text-anchor="middle" font-weight="normal">- MPO</text>
<text x="109.4" y="462" font-size="10" text-anchor="middle" font-weight="normal">+ MPO</text>
<text x="109.6" y="396.0" font-size="12" text-anchor="middle" font-weight="bold">***</text>
<text x="20.4" y="411.8" font-size="10" text-anchor="middle" font-weight="normal" transform="rotate(-90 20.4 411.8)" dominant-baseline="central">% DQ-OVA/FITC+ DCs</text>
<line x1="202.64999999999998" y1="374.45000000000005" x2="202.64999999999998" y2="373.85" stroke="#000" stroke-width="1.7"/>
<line x1="195.57399999999998" y1="373.85" x2="209.72599999999997" y2="373.85" stroke="#000" stroke-width="1.7"/>
<rect x="190.45" y="374.45" width="24.40" height="72.85" fill="#fff" stroke="#000" stroke-width="1.7"/>
<line x1="240.8" y1="392.15000000000003" x2="240.8" y2="391.55" stroke="#000" stroke-width="1.7"/>
<line x1="233.75300000000001" y1="391.55" x2="247.847" y2="391.55" stroke="#000" stroke-width="1.7"/>
<rect x="228.65" y="392.15" width="24.30" height="55.15" fill="#6d6d6d" stroke="#000" stroke-width="1.7"/>
<line x1="184.3" y1="370.75" x2="184.3" y2="448.15000000000003" stroke="#000" stroke-width="1.7"/>
<line x1="184.3" y1="447.3" x2="260.5" y2="447.3" stroke="#000" stroke-width="1.7"/>
<line x1="178.0" y1="447.3" x2="184.3" y2="447.3" stroke="#000" stroke-width="1.7"/>
<text transform="translate(177.5 450.35) scale(1.07 1)" font-size="9.6" text-anchor="end" font-weight="normal">0</text>
<line x1="178.0" y1="422.06666666666666" x2="184.3" y2="422.06666666666666" stroke="#000" stroke-width="1.7"/>
<text transform="translate(177.5 425.12) scale(1.07 1)" font-size="9.6" text-anchor="end" font-weight="normal">40</text>
<line x1="178.0" y1="396.83333333333337" x2="184.3" y2="396.83333333333337" stroke="#000" stroke-width="1.7"/>
<text transform="translate(177.5 399.88) scale(1.07 1)" font-size="9.6" text-anchor="end" font-weight="normal">80</text>
<line x1="178.0" y1="371.6" x2="184.3" y2="371.6" stroke="#000" stroke-width="1.7"/>
<text transform="translate(177.5 374.65) scale(1.07 1)" font-size="9.6" text-anchor="end" font-weight="normal">120</text>
<text x="202.65" y="462" font-size="10" text-anchor="middle" font-weight="normal">- MPO</text>
<text x="239.6" y="462" font-size="10" text-anchor="middle" font-weight="normal">+ MPO</text>
<text x="239.6" y="386.8" font-size="12" text-anchor="middle" font-weight="bold">***</text>
<text x="149.3" y="413" font-size="10" text-anchor="middle" font-weight="normal" transform="rotate(-90 149.3 413)" dominant-baseline="central">DQ-OVA/FITC (MFI)</text>
<line x1="332.9" y1="419.95000000000005" x2="332.9" y2="415.65000000000003" stroke="#000" stroke-width="1.7"/>
<line x1="325.679" y1="415.65000000000003" x2="340.121" y2="415.65000000000003" stroke="#000" stroke-width="1.7"/>
<rect x="320.45" y="419.95" width="24.90" height="27.35" fill="#fff" stroke="#000" stroke-width="1.7"/>
<line x1="371.35" y1="397.35" x2="371.35" y2="390.45000000000005" stroke="#000" stroke-width="1.7"/>
<line x1="364.39000000000004" y1="390.45000000000005" x2="378.31" y2="390.45000000000005" stroke="#000" stroke-width="1.7"/>
<rect x="359.35" y="397.35" width="24.00" height="49.95" fill="#6d6d6d" stroke="#000" stroke-width="1.7"/>
<line x1="314" y1="370.95" x2="314" y2="448.15000000000003" stroke="#000" stroke-width="1.7"/>
<line x1="314" y1="447.3" x2="390.5" y2="447.3" stroke="#000" stroke-width="1.7"/>
<line x1="307.7" y1="447.3" x2="314" y2="447.3" stroke="#000" stroke-width="1.7"/>
<text transform="translate(307.2 450.35) scale(1.07 1)" font-size="9.6" text-anchor="end" font-weight="normal">0</text>
<line x1="307.7" y1="428.425" x2="314" y2="428.425" stroke="#000" stroke-width="1.7"/>
<text transform="translate(307.2 431.48) scale(1.07 1)" font-size="9.6" text-anchor="end" font-weight="normal">10</text>
<line x1="307.7" y1="409.55" x2="314" y2="409.55" stroke="#000" stroke-width="1.7"/>
<text transform="translate(307.2 412.6) scale(1.07 1)" font-size="9.6" text-anchor="end" font-weight="normal">20</text>
<line x1="307.7" y1="390.675" x2="314" y2="390.675" stroke="#000" stroke-width="1.7"/>
<text transform="translate(307.2 393.73) scale(1.07 1)" font-size="9.6" text-anchor="end" font-weight="normal">30</text>
<line x1="307.7" y1="371.8" x2="314" y2="371.8" stroke="#000" stroke-width="1.7"/>
<text transform="translate(307.2 374.85) scale(1.07 1)" font-size="9.6" text-anchor="end" font-weight="normal">40</text>
<text x="332.9" y="462.3" font-size="10" text-anchor="middle" font-weight="normal">WT</text>
<text x="371.35" y="462.3" font-size="10" text-anchor="middle" font-weight="normal">Mpo-/-</text>
<text x="371.2" y="385.9" font-size="12" text-anchor="middle" font-weight="bold">*</text>
<text x="280.6" y="411.5" font-size="9.9" text-anchor="middle" font-weight="normal" transform="rotate(-90 280.6 411.5)" dominant-baseline="central">% DQ-OVA/FITC+ DCs</text>
<line x1="460.8" y1="407.85" x2="460.8" y2="403.15000000000003" stroke="#000" stroke-width="1.7"/>
<line x1="453.579" y1="403.15000000000003" x2="468.021" y2="403.15000000000003" stroke="#000" stroke-width="1.7"/>
<rect x="448.35" y="407.85" width="24.90" height="39.45" fill="#fff" stroke="#000" stroke-width="1.7"/>
<line x1="499.0" y1="390.45000000000005" x2="499.0" y2="384.85" stroke="#000" stroke-width="1.7"/>
<line x1="491.837" y1="384.85" x2="506.163" y2="384.85" stroke="#000" stroke-width="1.7"/>
<rect x="486.65" y="390.45" width="24.70" height="56.85" fill="#6d6d6d" stroke="#000" stroke-width="1.7"/>
<line x1="442.5" y1="371.04999999999995" x2="442.5" y2="448.15000000000003" stroke="#000" stroke-width="1.7"/>
<line x1="442.5" y1="447.3" x2="518.6" y2="447.3" stroke="#000" stroke-width="1.7"/>
<line x1="436.2" y1="447.3" x2="442.5" y2="447.3" stroke="#000" stroke-width="1.7"/>
<text transform="translate(435.7 450.35) scale(1.07 1)" font-size="9.6" text-anchor="end" font-weight="normal">0</text>
<line x1="436.2" y1="422.1666666666667" x2="442.5" y2="422.1666666666667" stroke="#000" stroke-width="1.7"/>
<text transform="translate(435.7 425.22) scale(1.07 1)" font-size="9.6" text-anchor="end" font-weight="normal">10</text>
<line x1="436.2" y1="397.0333333333333" x2="442.5" y2="397.0333333333333" stroke="#000" stroke-width="1.7"/>
<text transform="translate(435.7 400.08) scale(1.07 1)" font-size="9.6" text-anchor="end" font-weight="normal">20</text>
<line x1="436.2" y1="371.9" x2="442.5" y2="371.9" stroke="#000" stroke-width="1.7"/>
<text transform="translate(435.7 374.95) scale(1.07 1)" font-size="9.6" text-anchor="end" font-weight="normal">30</text>
<text x="460.8" y="462.3" font-size="10" text-anchor="middle" font-weight="normal">WT</text>
<text x="499.7" y="462.3" font-size="10" text-anchor="middle" font-weight="normal">Mpo-/-</text>
<text x="498.2" y="381.5" font-size="12" text-anchor="middle" font-weight="bold">*</text>
<text x="411.2" y="411.9" font-size="9.8" text-anchor="middle" font-weight="normal" transform="rotate(-90 411.2 411.9)" dominant-baseline="central">DQ-OVA/FITC (MFI)</text>
</svg>
</body></html>
